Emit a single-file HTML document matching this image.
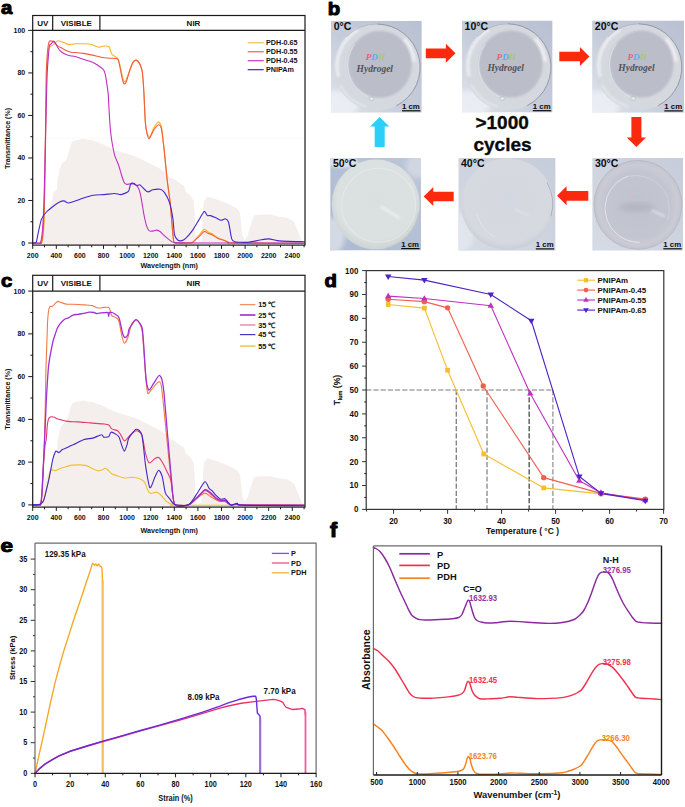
<!DOCTYPE html><html><head><meta charset="utf-8"><style>html,body{margin:0;padding:0;background:#fff;width:685px;height:807px;overflow:hidden}</style></head><body><svg width="685" height="807" viewBox="0 0 685 807" style="display:block">
<rect width="685" height="807" fill="#ffffff"/>
<path d="M43 245.1 L44 222 L45.4 216.8 L48.1 211.3 L52.2 200.4 L53.5 192.3 L56.9 189.5 L57.6 180 L59.7 169.1 L61.7 163.6 L66.5 159.5 L68.5 152.7 L71.9 141.8 L74.5 140.6 L82.9 138.9 L93.5 140.6 L104.1 144.8 L114.7 150.1 L125.3 153.3 L135.8 156.5 L146.4 161.8 L157 167 L165.5 172.3 L169.2 177 L175 179.6 L177.7 181.8 L184 186 L186.2 192.3 L190.4 195.5 L193.6 200.8 L194.6 211.4 L195.5 236 L197 244 L201.5 240 L203.5 205 L204.2 200.8 L207.3 196.6 L217.9 199.7 L228.5 204 L237 208.2 L240.1 213.5 L242.3 234.7 L244.5 240 L247.5 236 L249.7 228.3 L253.9 215.6 L260.3 214.6 L270.8 214.6 L279.3 216.7 L287.8 217.8 L294.1 222 L299.4 234.7 L302.6 243 L303 245.1 Z" fill="#f4efed" stroke="none"/>
<line x1="33.5" y1="138.2" x2="304.5" y2="138.2" stroke="#f8f6f5" stroke-width="0.8"/>
<path d="M32.9 243.3 C33.61 243.29 37.94 243.3 39 243.2 C40.06 243.09 41.42 244.52 42 242.4 C42.58 240.28 43.65 232.28 44 225 C44.35 217.72 44.79 192.25 45 180 C45.21 167.75 45.62 131.67 45.8 120 C45.97 108.33 46.3 87.23 46.5 80 C46.7 72.77 47.27 61.5 47.5 58 C47.73 54.5 48.17 51.35 48.5 50 C48.83 48.65 49.75 46.99 50.3 46.4 C50.85 45.8 52.66 45.27 53.2 44.9 C53.74 44.53 54.49 43.61 54.9 43.2 C55.31 42.79 56.29 41.68 56.7 41.4 C57.11 41.12 57.85 40.76 58.4 40.8 C58.95 40.84 60.71 41.49 61.4 41.7 C62.09 41.91 63.62 42.32 64.3 42.6 C64.98 42.88 66.31 43.9 67.2 44.1 C68.09 44.3 70.99 44.34 71.9 44.3 C72.81 44.26 73.61 43.86 75 43.8 C76.39 43.74 81.86 43.72 83.8 43.8 C85.74 43.88 90.18 44.2 91.6 44.5 C93.02 44.8 95.12 46.07 96 46.4 C96.88 46.73 98.28 47.32 99.1 47.3 C99.92 47.28 101.88 46.3 103 46.2 C104.12 46.1 107.88 46.07 108.7 46.4 C109.52 46.73 109.64 48.08 110 49 C110.36 49.92 111.18 53.42 111.8 54.3 C112.42 55.17 114.59 56 115.3 56.5 C116.01 57 117.39 57.74 117.9 58.6 C118.41 59.46 119.19 61.85 119.7 63.9 C120.21 65.95 121.74 74.1 122.3 76.2 C122.86 78.3 123.88 81.9 124.5 81.9 C125.12 81.9 126.83 78 127.6 76.2 C128.37 74.4 130.24 68.34 131.1 66.5 C131.96 64.66 134.25 61.1 135 60.4 C135.75 59.7 136.91 60.03 137.5 60.5 C138.09 60.97 139.54 63.09 140.1 64.4 C140.66 65.71 141.87 68.63 142.3 71.7 C142.73 74.77 143.45 84.84 143.8 90.7 C144.15 96.56 144.93 116.97 145.3 121.9 C145.67 126.84 146.49 131.22 147 133 C147.51 134.78 149.12 137.32 149.7 137.2 C150.28 137.08 151.49 133.17 152 132 C152.51 130.83 153.34 128.38 154.1 127.2 C154.86 126.02 157.65 121.92 158.5 121.9 C159.35 121.88 160.88 124.89 161.4 127 C161.93 129.11 162.66 137.19 163 140 C163.34 142.81 163.81 146.4 164.3 151.1 C164.79 155.8 166.52 174.34 167.2 180.3 C167.88 186.26 169.48 196.4 170.1 202.2 C170.72 208 172.04 225.31 172.5 230 C172.96 234.69 173.36 240.88 174 242.4 C174.64 243.92 176.58 242.93 178 243 C179.42 243.07 184.51 243.09 186.2 243 C187.89 242.91 191.02 243.11 192.5 242.2 C193.98 241.29 197.53 236.69 198.9 235.2 C200.27 233.71 203.09 229.74 204.2 229.4 C205.31 229.06 207.54 231.83 208.4 232.3 C209.26 232.77 210.49 232.76 211.6 233.4 C212.71 234.04 216.42 237.01 217.9 237.8 C219.38 238.59 223.06 239.69 224.3 240.2 C225.54 240.71 227.52 241.87 228.5 242.2 C229.48 242.53 223.83 242.87 232.7 243 C241.57 243.13 296.12 243.27 304.5 243.3" fill="none" stroke="#f7b52c" stroke-width="1.1" stroke-linejoin="round" stroke-linecap="round" />
<path d="M32.9 243.3 C33.61 243.29 37.98 243.3 39 243.2 C40.02 243.09 41.08 244.52 41.6 242.4 C42.12 240.28 43.15 231.11 43.5 225 C43.85 218.89 44.37 201.08 44.6 190 C44.83 178.92 45.31 143.42 45.5 130 C45.69 116.58 46 83.75 46.2 75 C46.4 66.25 46.97 58.44 47.2 55 C47.43 51.56 47.94 47.09 48.2 45.5 C48.46 43.91 48.96 41.91 49.4 41.4 C49.84 40.89 51.36 40.89 52 41.1 C52.64 41.31 54.21 42.62 54.9 43.2 C55.59 43.78 57.01 45.49 57.9 46.1 C58.79 46.71 61.41 47.82 62.5 48.4 C63.59 48.98 66.1 50.62 67.2 51.1 C68.3 51.58 70.99 52.34 71.9 52.5 C72.81 52.66 73.61 52.4 75 52.5 C76.39 52.6 81.76 53.1 83.8 53.4 C85.84 53.7 90.46 54.65 92.5 55.1 C94.54 55.55 99.26 56.94 101.3 57.3 C103.34 57.66 108.26 58.06 110 58.2 C111.74 58.34 115.22 58.24 116.2 58.5 C117.18 58.76 117.9 59.06 118.4 60.4 C118.9 61.74 120 67.66 120.5 70 C121 72.34 122.23 78.87 122.7 80.5 C123.17 82.13 124.03 84 124.5 84 C124.97 84 126.14 81.92 126.7 80.5 C127.26 79.08 128.59 73.94 129.3 71.8 C130.01 69.66 132.08 63.55 132.8 62.2 C133.52 60.85 134.89 60.28 135.5 60.2 C136.11 60.12 137.46 60.96 138 61.5 C138.54 62.04 139.6 63.57 140.1 64.8 C140.6 66.02 141.87 68.98 142.3 72 C142.73 75.02 143.45 84.88 143.8 90.7 C144.15 96.52 144.93 116.91 145.3 121.9 C145.67 126.89 146.57 131.54 147 133.5 C147.43 135.46 148.47 138.58 149 138.7 C149.53 138.82 150.91 135.57 151.5 134.5 C152.09 133.43 153.28 130.63 154.1 129.5 C154.92 128.37 157.65 124.92 158.5 124.8 C159.35 124.68 160.88 126.73 161.4 128.5 C161.93 130.27 162.66 137.36 163 140 C163.34 142.64 163.81 146.4 164.3 151.1 C164.79 155.8 166.52 174.34 167.2 180.3 C167.88 186.26 169.48 196.4 170.1 202.2 C170.72 208 172.04 225.31 172.5 230 C172.96 234.69 173.36 240.88 174 242.4 C174.64 243.92 176.58 242.93 178 243 C179.42 243.07 184.51 243.07 186.2 243 C187.89 242.93 191.02 243.14 192.5 242.4 C193.98 241.66 197.53 237.97 198.9 236.7 C200.27 235.43 203.09 231.86 204.2 231.5 C205.31 231.14 207.54 233.26 208.4 233.6 C209.26 233.94 210.49 233.83 211.6 234.4 C212.71 234.97 216.42 237.79 217.9 238.5 C219.38 239.21 223.06 240.04 224.3 240.5 C225.54 240.96 227.52 242.11 228.5 242.4 C229.48 242.69 223.83 242.87 232.7 243 C241.57 243.13 296.12 243.44 304.5 243.5" fill="none" stroke="#f25a3e" stroke-width="1.1" stroke-linejoin="round" stroke-linecap="round" />
<path d="M32.9 243.2 C33.49 243.18 37.1 243.12 38 243 C38.9 242.88 40.08 243.72 40.6 242.2 C41.12 240.68 42.1 234.92 42.5 230 C42.9 225.08 43.65 210.5 44 200 C44.35 189.5 45.22 151.67 45.5 140 C45.78 128.33 46.21 107.58 46.4 100 C46.59 92.42 46.89 79.85 47.1 75 C47.31 70.15 47.93 61.81 48.2 58.4 C48.47 54.99 49.1 47.45 49.4 45.8 C49.7 44.15 50.32 44.85 50.8 44.3 C51.28 43.75 52.95 41.23 53.5 41.1 C54.05 40.97 54.99 42.42 55.5 43.2 C56.01 43.98 57.35 46.91 57.9 47.8 C58.45 48.69 59.45 50.11 60.2 50.8 C60.95 51.49 63.14 53.13 64.3 53.7 C65.45 54.27 68.85 55.37 70.1 55.7 C71.35 56.03 73.4 56.06 75 56.5 C76.6 56.94 81.76 58.84 83.8 59.5 C85.84 60.16 90.87 61.54 92.5 62.2 C94.13 62.87 96.58 64.38 97.8 65.2 C99.02 66.02 102.18 68.33 103 69.2 C103.82 70.08 104.44 71.58 104.8 72.7 C105.16 73.82 105.8 77.06 106.1 78.8 C106.4 80.54 107.14 85.71 107.4 87.6 C107.66 89.49 108.14 92.94 108.3 95 C108.46 97.06 108.6 101.8 108.8 105.3 C109 108.8 109.74 121.53 110 125 C110.26 128.47 110.71 132.67 111 135 C111.29 137.33 112.07 142.62 112.5 145 C112.93 147.38 113.95 152.95 114.7 155.4 C115.45 157.85 118.11 163.71 118.9 166 C119.69 168.29 120.88 173.07 121.5 175 C122.12 176.93 123.62 181.41 124.2 182.5 C124.78 183.59 125.88 184.12 126.5 184.3 C127.12 184.48 128.66 184.03 129.5 184 C130.34 183.97 132.71 183.63 133.7 184 C134.69 184.37 137.24 186.1 138 187.2 C138.76 188.3 139.71 191.43 140.2 193.4 C140.69 195.37 141.76 201.58 142.2 204.1 C142.64 206.62 143.51 212.53 144 215 C144.49 217.47 145.88 223.55 146.4 225.3 C146.93 227.05 148 229.31 148.5 230 C149 230.69 150.06 231.11 150.7 231.2 C151.34 231.29 153.26 230.93 154 230.8 C154.74 230.67 156.3 230.02 157 230.1 C157.7 230.18 159.25 230.95 160 231.5 C160.75 232.05 162.27 233.8 163.4 234.8 C164.53 235.8 168.35 239.19 169.7 240.1 C171.05 241.01 171.47 242.26 175 242.6 C178.53 242.94 184.89 242.95 200 243 C215.11 243.05 292.31 243 304.5 243" fill="none" stroke="#c02fc0" stroke-width="1.1" stroke-linejoin="round" stroke-linecap="round" />
<path d="M32.9 243 C33.14 242.98 34.59 242.94 35 242.8 C35.41 242.66 35.99 243.11 36.4 241.8 C36.81 240.49 37.89 234.27 38.5 231.6 C39.11 228.93 40.62 221.25 41.6 218.9 C42.58 216.56 45.53 212.98 46.9 211.5 C48.27 210.02 51.82 207.31 53.3 206.2 C54.78 205.09 58.36 202.62 59.6 202 C60.84 201.38 62.91 200.78 63.9 200.9 C64.89 201.02 67.12 202.87 68.1 203 C69.08 203.13 70.57 202.56 72.3 202 C74.03 201.44 80.43 198.99 82.9 198.2 C85.37 197.41 91.03 195.62 93.5 195.2 C95.97 194.78 101.63 194.8 104.1 194.6 C106.57 194.4 112.73 193.5 114.7 193.5 C116.67 193.5 119.4 194.84 121 194.6 C122.6 194.35 127.28 192.64 128.4 191.4 C129.52 190.16 129.98 184.94 130.6 184 C131.22 183.06 132.96 183.12 133.7 183.3 C134.44 183.48 136.15 185.3 136.9 185.5 C137.65 185.7 138.86 184.26 140.1 185 C141.34 185.74 146.02 191.25 147.5 191.8 C148.98 192.35 151.32 189.99 152.8 189.7 C154.28 189.41 158.85 188.99 160.2 189.3 C161.55 189.62 163.29 190.8 164.4 192.4 C165.51 194 168.71 199.91 169.7 203 C170.69 206.09 172.34 215.2 172.9 218.9 C173.46 222.6 173.94 232.24 174.5 234.7 C175.06 237.16 176.84 239.31 177.7 240 C178.56 240.69 180.91 240.86 181.9 240.6 C182.89 240.34 184.96 238.99 186.2 237.8 C187.44 236.61 191.02 232.49 192.5 230.4 C193.98 228.31 197.53 222.12 198.9 219.9 C200.27 217.68 203.22 211.9 204.2 211.4 C205.18 210.9 206.56 215.11 207.3 215.6 C208.04 216.09 209.51 215.35 210.5 215.6 C211.49 215.84 214.56 217.15 215.8 217.7 C217.04 218.25 219.99 220.17 221.1 220.3 C222.21 220.43 224.44 218.6 225.3 218.8 C226.16 219 227.75 219.66 228.5 222 C229.25 224.34 230.95 236.6 231.7 238.9 C232.45 241.2 233.79 241.3 234.9 241.7 C236.01 242.1 239.47 242.25 241.2 242.3 C242.93 242.35 247.47 242.37 249.7 242.1 C251.93 241.83 258.08 240.37 260.3 240 C262.52 239.63 266.73 238.83 268.7 238.9 C270.67 238.97 274.97 240.31 277.2 240.6 C279.43 240.89 284.62 241.27 287.8 241.4 C290.99 241.53 302.55 241.66 304.5 241.7" fill="none" stroke="#4a25cc" stroke-width="1.1" stroke-linejoin="round" stroke-linecap="round" />
<rect x="32.7" y="15.5" width="272.3" height="229.6" fill="none" stroke="#1a1a1a" stroke-width="1.2"/>
<line x1="32.7" y1="30.4" x2="305" y2="30.4" stroke="#1a1a1a" stroke-width="1.2"/>
<line x1="52.7" y1="15.5" x2="52.7" y2="30.4" stroke="#1a1a1a" stroke-width="1.2"/>
<line x1="99.9" y1="15.5" x2="99.9" y2="30.4" stroke="#1a1a1a" stroke-width="1.2"/>
<text x="42.7" y="25.85" font-size="8" text-anchor="middle" font-weight="bold" fill="#111" font-family='"Liberation Sans", sans-serif' >UV</text>
<text x="76.3" y="25.85" font-size="8" text-anchor="middle" font-weight="bold" fill="#111" font-family='"Liberation Sans", sans-serif' >VISIBLE</text>
<text x="193.5" y="25.85" font-size="8" text-anchor="middle" font-weight="bold" fill="#111" font-family='"Liberation Sans", sans-serif' >NIR</text>
<line x1="28.2" y1="243" x2="32.7" y2="243" stroke="#1a1a1a" stroke-width="1"/>
<text x="25.2" y="245.5" font-size="7" text-anchor="end" font-weight="bold" fill="#111" font-family='"Liberation Sans", sans-serif' >0</text>
<line x1="30.4" y1="221.74" x2="32.7" y2="221.74" stroke="#1a1a1a" stroke-width="1"/>
<line x1="28.2" y1="200.48" x2="32.7" y2="200.48" stroke="#1a1a1a" stroke-width="1"/>
<text x="25.2" y="202.98" font-size="7" text-anchor="end" font-weight="bold" fill="#111" font-family='"Liberation Sans", sans-serif' >20</text>
<line x1="30.4" y1="179.22" x2="32.7" y2="179.22" stroke="#1a1a1a" stroke-width="1"/>
<line x1="28.2" y1="157.96" x2="32.7" y2="157.96" stroke="#1a1a1a" stroke-width="1"/>
<text x="25.2" y="160.46" font-size="7" text-anchor="end" font-weight="bold" fill="#111" font-family='"Liberation Sans", sans-serif' >40</text>
<line x1="30.4" y1="136.7" x2="32.7" y2="136.7" stroke="#1a1a1a" stroke-width="1"/>
<line x1="28.2" y1="115.44" x2="32.7" y2="115.44" stroke="#1a1a1a" stroke-width="1"/>
<text x="25.2" y="117.94" font-size="7" text-anchor="end" font-weight="bold" fill="#111" font-family='"Liberation Sans", sans-serif' >60</text>
<line x1="30.4" y1="94.18" x2="32.7" y2="94.18" stroke="#1a1a1a" stroke-width="1"/>
<line x1="28.2" y1="72.92" x2="32.7" y2="72.92" stroke="#1a1a1a" stroke-width="1"/>
<text x="25.2" y="75.42" font-size="7" text-anchor="end" font-weight="bold" fill="#111" font-family='"Liberation Sans", sans-serif' >80</text>
<line x1="30.4" y1="51.66" x2="32.7" y2="51.66" stroke="#1a1a1a" stroke-width="1"/>
<line x1="28.2" y1="30.4" x2="32.7" y2="30.4" stroke="#1a1a1a" stroke-width="1"/>
<text x="25.2" y="32.9" font-size="7" text-anchor="end" font-weight="bold" fill="#111" font-family='"Liberation Sans", sans-serif' >100</text>
<line x1="32.7" y1="245.1" x2="32.7" y2="248.9" stroke="#1a1a1a" stroke-width="1"/>
<text x="32.7" y="258" font-size="7" text-anchor="middle" font-weight="bold" fill="#111" font-family='"Liberation Sans", sans-serif' >200</text>
<line x1="44.5" y1="245.1" x2="44.5" y2="247.3" stroke="#1a1a1a" stroke-width="1"/>
<line x1="56.3" y1="245.1" x2="56.3" y2="248.9" stroke="#1a1a1a" stroke-width="1"/>
<text x="56.3" y="258" font-size="7" text-anchor="middle" font-weight="bold" fill="#111" font-family='"Liberation Sans", sans-serif' >400</text>
<line x1="68.1" y1="245.1" x2="68.1" y2="247.3" stroke="#1a1a1a" stroke-width="1"/>
<line x1="79.9" y1="245.1" x2="79.9" y2="248.9" stroke="#1a1a1a" stroke-width="1"/>
<text x="79.9" y="258" font-size="7" text-anchor="middle" font-weight="bold" fill="#111" font-family='"Liberation Sans", sans-serif' >600</text>
<line x1="91.7" y1="245.1" x2="91.7" y2="247.3" stroke="#1a1a1a" stroke-width="1"/>
<line x1="103.5" y1="245.1" x2="103.5" y2="248.9" stroke="#1a1a1a" stroke-width="1"/>
<text x="103.5" y="258" font-size="7" text-anchor="middle" font-weight="bold" fill="#111" font-family='"Liberation Sans", sans-serif' >800</text>
<line x1="115.3" y1="245.1" x2="115.3" y2="247.3" stroke="#1a1a1a" stroke-width="1"/>
<line x1="127.1" y1="245.1" x2="127.1" y2="248.9" stroke="#1a1a1a" stroke-width="1"/>
<text x="127.1" y="258" font-size="7" text-anchor="middle" font-weight="bold" fill="#111" font-family='"Liberation Sans", sans-serif' >1000</text>
<line x1="138.9" y1="245.1" x2="138.9" y2="247.3" stroke="#1a1a1a" stroke-width="1"/>
<line x1="150.7" y1="245.1" x2="150.7" y2="248.9" stroke="#1a1a1a" stroke-width="1"/>
<text x="150.7" y="258" font-size="7" text-anchor="middle" font-weight="bold" fill="#111" font-family='"Liberation Sans", sans-serif' >1200</text>
<line x1="162.5" y1="245.1" x2="162.5" y2="247.3" stroke="#1a1a1a" stroke-width="1"/>
<line x1="174.3" y1="245.1" x2="174.3" y2="248.9" stroke="#1a1a1a" stroke-width="1"/>
<text x="174.3" y="258" font-size="7" text-anchor="middle" font-weight="bold" fill="#111" font-family='"Liberation Sans", sans-serif' >1400</text>
<line x1="186.1" y1="245.1" x2="186.1" y2="247.3" stroke="#1a1a1a" stroke-width="1"/>
<line x1="197.9" y1="245.1" x2="197.9" y2="248.9" stroke="#1a1a1a" stroke-width="1"/>
<text x="197.9" y="258" font-size="7" text-anchor="middle" font-weight="bold" fill="#111" font-family='"Liberation Sans", sans-serif' >1600</text>
<line x1="209.7" y1="245.1" x2="209.7" y2="247.3" stroke="#1a1a1a" stroke-width="1"/>
<line x1="221.5" y1="245.1" x2="221.5" y2="248.9" stroke="#1a1a1a" stroke-width="1"/>
<text x="221.5" y="258" font-size="7" text-anchor="middle" font-weight="bold" fill="#111" font-family='"Liberation Sans", sans-serif' >1800</text>
<line x1="233.3" y1="245.1" x2="233.3" y2="247.3" stroke="#1a1a1a" stroke-width="1"/>
<line x1="245.1" y1="245.1" x2="245.1" y2="248.9" stroke="#1a1a1a" stroke-width="1"/>
<text x="245.1" y="258" font-size="7" text-anchor="middle" font-weight="bold" fill="#111" font-family='"Liberation Sans", sans-serif' >2000</text>
<line x1="256.9" y1="245.1" x2="256.9" y2="247.3" stroke="#1a1a1a" stroke-width="1"/>
<line x1="268.7" y1="245.1" x2="268.7" y2="248.9" stroke="#1a1a1a" stroke-width="1"/>
<text x="268.7" y="258" font-size="7" text-anchor="middle" font-weight="bold" fill="#111" font-family='"Liberation Sans", sans-serif' >2200</text>
<line x1="280.5" y1="245.1" x2="280.5" y2="247.3" stroke="#1a1a1a" stroke-width="1"/>
<line x1="292.3" y1="245.1" x2="292.3" y2="248.9" stroke="#1a1a1a" stroke-width="1"/>
<text x="292.3" y="258" font-size="7" text-anchor="middle" font-weight="bold" fill="#111" font-family='"Liberation Sans", sans-serif' >2400</text>
<line x1="304.1" y1="245.1" x2="304.1" y2="247.3" stroke="#1a1a1a" stroke-width="1"/>
<text x="169.2" y="268" font-size="7.2" text-anchor="middle" font-weight="bold" fill="#111" font-family='"Liberation Sans", sans-serif' >Wavelength (nm)</text>
<text transform="translate(10.2 138.4) rotate(-90)" font-size="7.1" text-anchor="middle" font-weight="bold" fill="#111" font-family='"Liberation Sans", sans-serif'>Transmittance (%)</text>
<text x="0" y="0" font-size="18.5" font-weight="bold" fill="#000" stroke="#000" stroke-width="1.0" stroke-linejoin="round" font-family='"Liberation Sans", sans-serif' transform="translate(0.9 14.3) scale(1.1 1)">a</text>
<line x1="247.7" y1="42.8" x2="263.7" y2="42.8" stroke="#f5c060" stroke-width="1.3"/>
<text x="266" y="45.4" font-size="7.2" text-anchor="start" font-weight="bold" fill="#111" font-family='"Liberation Sans", sans-serif' >PDH-0.65</text>
<line x1="247.7" y1="51.75" x2="263.7" y2="51.75" stroke="#f86c5c" stroke-width="1.3"/>
<text x="266" y="54.35" font-size="7.2" text-anchor="start" font-weight="bold" fill="#111" font-family='"Liberation Sans", sans-serif' >PDH-0.55</text>
<line x1="247.7" y1="60.7" x2="263.7" y2="60.7" stroke="#c845c8" stroke-width="1.3"/>
<text x="266" y="63.3" font-size="7.2" text-anchor="start" font-weight="bold" fill="#111" font-family='"Liberation Sans", sans-serif' >PDH-0.45</text>
<line x1="247.7" y1="69.65" x2="263.7" y2="69.65" stroke="#5535d0" stroke-width="1.3"/>
<text x="266" y="72.25" font-size="7.2" text-anchor="start" font-weight="bold" fill="#111" font-family='"Liberation Sans", sans-serif' >PNIPAm</text>
<path d="M43 506.8 L44 483.7 L45.4 478.5 L48.1 473 L52.2 462.1 L53.5 454 L56.9 451.2 L57.6 441.7 L59.7 430.8 L61.7 425.3 L66.5 421.2 L68.5 414.4 L71.9 403.5 L74.5 402.3 L82.9 400.6 L93.5 402.3 L104.1 406.5 L114.7 411.8 L125.3 415 L135.8 418.2 L146.4 423.5 L157 428.7 L165.5 434 L169.2 438.7 L175 441.3 L177.7 443.5 L184 447.7 L186.2 454 L190.4 457.2 L193.6 462.5 L194.6 473.1 L195.5 497.7 L197 505.7 L201.5 501.7 L203.5 466.7 L204.2 462.5 L207.3 458.3 L217.9 461.4 L228.5 465.7 L237 469.9 L240.1 475.2 L242.3 496.4 L244.5 501.7 L247.5 497.7 L249.7 490 L253.9 477.3 L260.3 476.3 L270.8 476.3 L279.3 478.4 L287.8 479.5 L294.1 483.7 L299.4 496.4 L302.6 504.7 L303 506.8 Z" fill="#f4efed" stroke="none"/>
<path d="M32.9 504.9 C33.6 504.87 37.84 504.83 38.9 504.6 C39.96 504.37 41.39 503.55 42 502.9 C42.61 502.25 43.55 500.67 44.1 499 C44.65 497.33 46.19 490.82 46.7 488.6 C47.21 486.38 48.09 482.03 48.5 480 C48.91 477.97 49.7 472.38 50.2 471.2 C50.7 470.02 52.19 469.95 52.8 469.9 C53.41 469.85 54.58 470.95 55.4 470.8 C56.22 470.65 58.48 469.1 59.8 468.6 C61.12 468.1 65.24 466.91 66.7 466.5 C68.16 466.09 70.11 465.23 72.3 465.1 C74.49 464.97 83.11 464.98 85.5 465.4 C87.89 465.82 91.27 468.06 92.8 468.7 C94.33 469.34 97.41 470.81 98.6 470.9 C99.79 470.99 102.31 469.81 103 469.5 C103.69 469.19 103.99 468.2 104.5 468.2 C105.01 468.2 106.55 468.85 107.4 469.5 C108.25 470.15 110.61 473.04 111.8 473.8 C112.99 474.56 116.07 475.51 117.6 476 C119.13 476.49 123.45 477.82 124.9 478 C126.35 478.18 128.87 477.56 130 477.5 C131.13 477.44 133.39 477.32 134.6 477.5 C135.81 477.68 139.21 478.4 140.4 479 C141.59 479.6 143.95 481.33 144.8 482.6 C145.65 483.87 147.01 488.63 147.7 489.9 C148.39 491.17 149.67 493.24 150.7 493.5 C151.73 493.76 155.31 491.93 156.5 492.1 C157.69 492.28 159.71 493.89 160.9 495 C162.09 496.11 165.33 500.49 166.7 501.6 C168.06 502.71 171.23 504.08 172.6 504.5 C173.97 504.92 163.07 505.12 178.4 505.2 C193.73 505.28 289.35 505.2 304 505.2" fill="none" stroke="#f0c030" stroke-width="1.1" stroke-linejoin="round" stroke-linecap="round" />
<path d="M32.9 505 C33.61 504.98 38.09 504.88 39 504.8 C39.91 504.72 40.33 505.68 40.7 504.3 C41.07 502.92 41.89 497 42.2 493 C42.52 489 43.16 475.6 43.4 470 C43.64 464.4 44.12 450.83 44.3 445 C44.47 439.17 44.76 425.83 44.9 420 C45.04 414.17 45.38 400.83 45.5 395 C45.62 389.17 45.78 374.85 45.9 370 C46.02 365.15 46.34 358.07 46.5 353.4 C46.66 348.73 47.17 333.75 47.3 330 C47.43 326.25 47.46 323.47 47.6 321.3 C47.74 319.13 48.26 313.1 48.5 311.4 C48.74 309.7 49.29 307.28 49.7 306.7 C50.11 306.12 51.52 306.57 52 306.4 C52.48 306.22 53.32 305.64 53.8 305.2 C54.28 304.76 55.6 303.04 56.1 302.6 C56.6 302.16 57.48 301.4 58.1 301.4 C58.72 301.4 60.61 302.32 61.4 302.6 C62.19 302.88 64.22 303.6 64.9 303.8 C65.58 304 66.26 304.24 67.2 304.3 C68.14 304.36 71.74 304.28 73 304.3 C74.26 304.32 76.56 304.43 78 304.5 C79.44 304.57 83.6 304.77 85.3 304.9 C87 305.03 91.33 305.31 92.6 305.6 C93.87 305.89 95.35 307.12 96.2 307.4 C97.05 307.68 99.05 308 99.9 308 C100.75 308 102.47 307.47 103.5 307.4 C104.53 307.33 107.93 307.06 108.7 307.4 C109.47 307.74 109.76 309.37 110.1 310.3 C110.44 311.23 111.09 314.63 111.6 315.4 C112.11 316.17 113.78 316.47 114.5 316.9 C115.22 317.33 117.2 318.25 117.8 319.1 C118.39 319.95 119.13 322.24 119.6 324.2 C120.07 326.16 121.24 333.68 121.8 335.9 C122.36 338.12 123.68 343.04 124.4 343.2 C125.12 343.36 127.18 339.49 128 337.3 C128.82 335.11 130.49 326.42 131.4 324.4 C132.31 322.38 134.87 320.16 135.8 320 C136.73 319.84 138.64 321.63 139.4 323 C140.16 324.37 141.79 328.47 142.3 331.7 C142.81 334.93 143.37 345.08 143.8 350.7 C144.23 356.32 145.53 374.91 146 379.9 C146.47 384.89 147.21 392.31 147.8 393.5 C148.4 394.69 149.86 391.43 151.1 390.1 C152.34 388.77 157.21 382.61 158.4 382.1 C159.59 381.59 160.53 381.28 161.3 385.7 C162.07 390.12 163.99 410.17 165 420 C166.01 429.83 168.87 460.14 170 470 C171.13 479.86 172.53 500.44 174.7 504.5 C176.87 508.56 185.95 505.56 188.6 504.8 C191.25 504.04 195.52 499.37 197.4 498 C199.28 496.63 203.22 493.31 204.7 493.1 C206.18 492.89 208.75 495.39 210.1 496.2 C211.45 497 215.06 499.38 216.3 500 C217.54 500.62 219.69 501.32 220.7 501.5 C221.71 501.68 224.15 501.27 225 501.5 C225.85 501.73 227.28 503.09 228 503.5 C228.72 503.91 230.11 504.94 231.2 505 C232.28 505.06 235.97 504 237.3 504 C238.63 504 234.82 504.86 242.6 505 C250.38 505.14 296.84 505.18 304 505.2" fill="none" stroke="#f47a45" stroke-width="1.1" stroke-linejoin="round" stroke-linecap="round" />
<path d="M32.9 505 C33.61 504.98 38.09 504.89 39 504.8 C39.91 504.71 40.35 505.69 40.7 504.2 C41.05 502.71 41.7 496.46 42 492 C42.3 487.54 43 470.9 43.3 466 C43.6 461.1 44.33 452.8 44.6 450 C44.87 447.2 45.41 443.17 45.6 442 C45.79 440.83 46 441.94 46.2 440 C46.4 438.06 47.03 427.85 47.3 425.4 C47.57 422.95 48.15 419.98 48.5 419 C48.85 418.02 49.89 417.27 50.3 417 C50.71 416.73 51.52 416.66 52 416.7 C52.48 416.74 53.78 417.07 54.4 417.3 C55.02 417.53 56.48 418.4 57.3 418.7 C58.12 419 60.38 419.62 61.4 419.9 C62.41 420.18 64.98 420.9 66 421.1 C67.02 421.3 68.7 421.51 70.1 421.6 C71.5 421.69 75.86 421.77 78 421.9 C80.14 422.03 85.48 422.47 88.4 422.7 C91.32 422.93 100.62 423.64 103 423.9 C105.38 424.16 107.77 424.32 108.8 424.9 C109.83 425.48 110.77 428.21 111.8 428.9 C112.83 429.59 116.58 430.16 117.6 430.8 C118.61 431.44 119.71 433.21 120.5 434.4 C121.29 435.59 123.43 440.74 124.4 441 C125.37 441.26 127.44 437.79 128.8 436.6 C130.17 435.41 134.57 430.98 136.1 430.8 C137.63 430.62 140.8 432.46 141.9 435.1 C143 437.74 144.65 450.16 145.5 453.4 C146.35 456.64 148.09 462.3 149.2 462.9 C150.31 463.5 153.89 459.13 155 458.5 C156.11 457.87 157.85 457.07 158.7 457.5 C159.55 457.93 161.37 460.64 162.3 462.2 C163.23 463.76 165.67 468.69 166.7 470.9 C167.73 473.1 170.17 477.18 171.1 481.1 C172.03 485.02 172.66 501.74 174.7 504.5 C176.74 507.26 185.95 505.62 188.6 504.8 C191.25 503.98 195.5 499.18 197.4 497.5 C199.3 495.82 203.42 490.87 204.9 490.4 C206.38 489.93 208.77 492.5 210.1 493.5 C211.43 494.5 215.06 498.12 216.3 499 C217.54 499.88 219.69 500.77 220.7 501 C221.71 501.23 224.15 500.73 225 501 C225.85 501.27 227.28 502.83 228 503.3 C228.72 503.77 230.11 504.92 231.2 505 C232.28 505.08 235.97 504 237.3 504 C238.63 504 234.82 504.86 242.6 505 C250.38 505.14 296.84 505.18 304 505.2" fill="none" stroke="#e33a6c" stroke-width="1.1" stroke-linejoin="round" stroke-linecap="round" />
<path d="M32.9 505 C33.61 504.98 38.09 504.89 39 504.8 C39.91 504.71 40.35 505.69 40.7 504.2 C41.05 502.71 41.7 496.46 42 492 C42.3 487.54 43 472.07 43.3 466 C43.6 459.93 44.34 445.37 44.6 440 C44.86 434.63 45.3 424.67 45.5 420 C45.7 415.33 46.1 404.08 46.3 400 C46.5 395.92 46.98 388.5 47.2 385 C47.42 381.5 47.98 372.67 48.2 370 C48.42 367.33 48.8 364.18 49.1 362.1 C49.4 360.02 50.32 354.72 50.8 352.2 C51.28 349.68 52.65 342.68 53.2 340.5 C53.75 338.32 55.02 334.92 55.5 333.5 C55.98 332.08 56.75 329.45 57.3 328.3 C57.85 327.15 59.38 324.63 60.2 323.6 C61.02 322.57 63.34 320.18 64.3 319.5 C65.26 318.82 67.39 318.31 68.4 317.8 C69.42 317.29 71.88 315.51 73 315.1 C74.12 314.69 76.56 314.52 78 314.3 C79.44 314.08 84.03 313.44 85.3 313.2 C86.57 312.95 87.87 312.28 88.9 312.2 C89.93 312.12 93.16 312.34 94.1 312.5 C95.04 312.66 96.15 313.55 97 313.6 C97.85 313.65 100.21 313.03 101.4 312.9 C102.59 312.77 106.41 312.49 107.2 312.5 C107.99 312.51 108.03 312.53 108.2 313 C108.38 313.47 108.58 316.5 108.7 316.5 C108.82 316.5 109.09 313.47 109.2 313 C109.31 312.53 109.24 312.56 109.6 312.5 C109.96 312.44 111.65 312.29 112.3 312.5 C112.95 312.71 114.52 313.87 115.2 314.3 C115.88 314.73 117.54 315.38 118.1 316.2 C118.66 317.02 119.49 319.34 120 321.3 C120.51 323.26 121.91 331.09 122.5 333 C123.09 334.91 124.46 337.54 125.1 337.7 C125.74 337.86 127.52 335.44 128 334.4 C128.48 333.36 128.29 330.51 129.2 328.8 C130.11 327.09 134.53 320.3 135.8 319.7 C137.07 319.1 139.34 322.64 140.1 323.7 C140.86 324.76 141.87 326.16 142.3 328.8 C142.73 331.44 143.37 340.51 143.8 346.3 C144.23 352.09 145.41 373.29 146 378.4 C146.59 383.51 147.97 389.59 148.9 390.1 C149.83 390.61 152.81 384.5 154 382.8 C155.19 381.1 158.17 375.84 159.1 375.5 C160.03 375.16 161.41 377.62 162 379.9 C162.59 382.17 163.5 387.99 164.2 395 C164.9 402.01 167.15 430.08 168 440 C168.85 449.92 170.72 472.48 171.5 480 C172.28 487.52 172.7 501.61 174.7 504.5 C176.69 507.39 185.95 505.68 188.6 504.8 C191.25 503.93 195.5 498.77 197.4 497 C199.3 495.23 203.42 490.16 204.9 489.6 C206.38 489.04 208.77 491.22 210.1 492.2 C211.43 493.18 215.06 497.03 216.3 498 C217.54 498.97 219.69 500.23 220.7 500.5 C221.71 500.77 224.15 500.01 225 500.3 C225.85 500.59 227.28 502.45 228 503 C228.72 503.55 230.11 504.91 231.2 505 C232.28 505.09 235.97 503.8 237.3 503.8 C238.63 503.8 234.82 504.84 242.6 505 C250.38 505.16 296.84 505.18 304 505.2" fill="none" stroke="#a030d8" stroke-width="1.3" stroke-linejoin="round" stroke-linecap="round" />
<path d="M32.9 504.9 C33.6 504.87 37.84 504.83 38.9 504.6 C39.96 504.37 41.39 503.55 42 502.9 C42.61 502.25 43.55 500.67 44.1 499 C44.65 497.33 46.09 491.13 46.7 488.6 C47.31 486.07 48.74 479.94 49.3 477.3 C49.86 474.66 51.09 468.12 51.5 466 C51.91 463.88 52.34 460.77 52.8 459.1 C53.25 457.43 54.95 452.61 55.4 451.7 C55.85 450.79 56.29 451.19 56.7 451.3 C57.11 451.41 58.23 452.81 58.9 452.6 C59.56 452.39 61.49 450.06 62.4 449.5 C63.31 448.94 65.58 448.3 66.7 447.8 C67.82 447.3 71.17 445.57 72 445.2 C72.83 444.83 72.4 445.27 73.8 444.6 C75.2 443.94 81.78 440.26 84 439.5 C86.22 438.74 90.76 438.66 92.8 438.1 C94.84 437.54 100.25 434.83 101.5 434.7 C102.75 434.57 103.07 436.7 103.5 437 C103.93 437.3 104.58 437.35 105.2 437.3 C105.82 437.25 108.12 437.2 108.8 436.6 C109.48 436 110.15 432.46 111 432.2 C111.85 431.94 115.16 433.8 116.1 434.4 C117.04 435 118.41 435.94 119.1 437.3 C119.79 438.67 121.38 444.48 122 446.1 C122.62 447.72 123.81 451.38 124.4 451.2 C125 451.02 126.59 446.13 127.1 444.6 C127.61 443.07 127.75 439.89 128.8 438.1 C129.85 436.31 134.57 429.65 136.1 429.3 C137.63 428.95 140.8 430.92 141.9 435.1 C143 439.28 144.57 458.96 145.5 465.1 C146.43 471.24 148.79 486.33 149.9 487.7 C151.01 489.06 153.97 478.84 155 476.8 C156.03 474.76 157.85 470.2 158.7 470.2 C159.55 470.2 161.53 474.16 162.3 476.8 C163.07 479.44 164.45 490.26 165.3 492.8 C166.15 495.34 168.5 497.24 169.6 498.6 C170.7 499.97 172.48 503.78 174.7 504.5 C176.92 505.22 185.95 506.14 188.6 504.8 C191.25 503.46 195.5 495.69 197.4 493 C199.3 490.31 203.51 482.2 204.9 481.7 C206.29 481.2 208.48 487.69 209.3 488.7 C210.12 489.71 211.08 489.58 211.9 490.4 C212.72 491.22 215.27 494.67 216.3 495.7 C217.33 496.73 219.69 498.85 220.7 499.2 C221.71 499.55 224.18 498.4 225 498.7 C225.82 499 226.98 501.03 227.7 501.8 C228.42 502.57 230.08 505.14 231.2 505.3 C232.32 505.46 235.97 503.2 237.3 503.2 C238.63 503.2 234.82 505.01 242.6 505.3 C250.38 505.59 296.84 505.65 304 505.7" fill="none" stroke="#4425c4" stroke-width="1.1" stroke-linejoin="round" stroke-linecap="round" />
<rect x="32.7" y="275.3" width="272.3" height="231.8" fill="none" stroke="#1a1a1a" stroke-width="1.2"/>
<line x1="32.7" y1="291.1" x2="305" y2="291.1" stroke="#1a1a1a" stroke-width="1.2"/>
<line x1="52.7" y1="275.3" x2="52.7" y2="291.1" stroke="#1a1a1a" stroke-width="1.2"/>
<line x1="99.9" y1="275.3" x2="99.9" y2="291.1" stroke="#1a1a1a" stroke-width="1.2"/>
<text x="42.7" y="286.1" font-size="8" text-anchor="middle" font-weight="bold" fill="#111" font-family='"Liberation Sans", sans-serif' >UV</text>
<text x="76.3" y="286.1" font-size="8" text-anchor="middle" font-weight="bold" fill="#111" font-family='"Liberation Sans", sans-serif' >VISIBLE</text>
<text x="193.5" y="286.1" font-size="8" text-anchor="middle" font-weight="bold" fill="#111" font-family='"Liberation Sans", sans-serif' >NIR</text>
<line x1="28.2" y1="504.9" x2="32.7" y2="504.9" stroke="#1a1a1a" stroke-width="1"/>
<text x="25.2" y="507.4" font-size="7" text-anchor="end" font-weight="bold" fill="#111" font-family='"Liberation Sans", sans-serif' >0</text>
<line x1="30.4" y1="483.52" x2="32.7" y2="483.52" stroke="#1a1a1a" stroke-width="1"/>
<line x1="28.2" y1="462.14" x2="32.7" y2="462.14" stroke="#1a1a1a" stroke-width="1"/>
<text x="25.2" y="464.64" font-size="7" text-anchor="end" font-weight="bold" fill="#111" font-family='"Liberation Sans", sans-serif' >20</text>
<line x1="30.4" y1="440.76" x2="32.7" y2="440.76" stroke="#1a1a1a" stroke-width="1"/>
<line x1="28.2" y1="419.38" x2="32.7" y2="419.38" stroke="#1a1a1a" stroke-width="1"/>
<text x="25.2" y="421.88" font-size="7" text-anchor="end" font-weight="bold" fill="#111" font-family='"Liberation Sans", sans-serif' >40</text>
<line x1="30.4" y1="398" x2="32.7" y2="398" stroke="#1a1a1a" stroke-width="1"/>
<line x1="28.2" y1="376.62" x2="32.7" y2="376.62" stroke="#1a1a1a" stroke-width="1"/>
<text x="25.2" y="379.12" font-size="7" text-anchor="end" font-weight="bold" fill="#111" font-family='"Liberation Sans", sans-serif' >60</text>
<line x1="30.4" y1="355.24" x2="32.7" y2="355.24" stroke="#1a1a1a" stroke-width="1"/>
<line x1="28.2" y1="333.86" x2="32.7" y2="333.86" stroke="#1a1a1a" stroke-width="1"/>
<text x="25.2" y="336.36" font-size="7" text-anchor="end" font-weight="bold" fill="#111" font-family='"Liberation Sans", sans-serif' >80</text>
<line x1="30.4" y1="312.48" x2="32.7" y2="312.48" stroke="#1a1a1a" stroke-width="1"/>
<line x1="28.2" y1="291.1" x2="32.7" y2="291.1" stroke="#1a1a1a" stroke-width="1"/>
<text x="25.2" y="293.6" font-size="7" text-anchor="end" font-weight="bold" fill="#111" font-family='"Liberation Sans", sans-serif' >100</text>
<line x1="32.7" y1="507.1" x2="32.7" y2="510.9" stroke="#1a1a1a" stroke-width="1"/>
<text x="32.7" y="520.3" font-size="7" text-anchor="middle" font-weight="bold" fill="#111" font-family='"Liberation Sans", sans-serif' >200</text>
<line x1="44.5" y1="507.1" x2="44.5" y2="509.3" stroke="#1a1a1a" stroke-width="1"/>
<line x1="56.3" y1="507.1" x2="56.3" y2="510.9" stroke="#1a1a1a" stroke-width="1"/>
<text x="56.3" y="520.3" font-size="7" text-anchor="middle" font-weight="bold" fill="#111" font-family='"Liberation Sans", sans-serif' >400</text>
<line x1="68.1" y1="507.1" x2="68.1" y2="509.3" stroke="#1a1a1a" stroke-width="1"/>
<line x1="79.9" y1="507.1" x2="79.9" y2="510.9" stroke="#1a1a1a" stroke-width="1"/>
<text x="79.9" y="520.3" font-size="7" text-anchor="middle" font-weight="bold" fill="#111" font-family='"Liberation Sans", sans-serif' >600</text>
<line x1="91.7" y1="507.1" x2="91.7" y2="509.3" stroke="#1a1a1a" stroke-width="1"/>
<line x1="103.5" y1="507.1" x2="103.5" y2="510.9" stroke="#1a1a1a" stroke-width="1"/>
<text x="103.5" y="520.3" font-size="7" text-anchor="middle" font-weight="bold" fill="#111" font-family='"Liberation Sans", sans-serif' >800</text>
<line x1="115.3" y1="507.1" x2="115.3" y2="509.3" stroke="#1a1a1a" stroke-width="1"/>
<line x1="127.1" y1="507.1" x2="127.1" y2="510.9" stroke="#1a1a1a" stroke-width="1"/>
<text x="127.1" y="520.3" font-size="7" text-anchor="middle" font-weight="bold" fill="#111" font-family='"Liberation Sans", sans-serif' >1000</text>
<line x1="138.9" y1="507.1" x2="138.9" y2="509.3" stroke="#1a1a1a" stroke-width="1"/>
<line x1="150.7" y1="507.1" x2="150.7" y2="510.9" stroke="#1a1a1a" stroke-width="1"/>
<text x="150.7" y="520.3" font-size="7" text-anchor="middle" font-weight="bold" fill="#111" font-family='"Liberation Sans", sans-serif' >1200</text>
<line x1="162.5" y1="507.1" x2="162.5" y2="509.3" stroke="#1a1a1a" stroke-width="1"/>
<line x1="174.3" y1="507.1" x2="174.3" y2="510.9" stroke="#1a1a1a" stroke-width="1"/>
<text x="174.3" y="520.3" font-size="7" text-anchor="middle" font-weight="bold" fill="#111" font-family='"Liberation Sans", sans-serif' >1400</text>
<line x1="186.1" y1="507.1" x2="186.1" y2="509.3" stroke="#1a1a1a" stroke-width="1"/>
<line x1="197.9" y1="507.1" x2="197.9" y2="510.9" stroke="#1a1a1a" stroke-width="1"/>
<text x="197.9" y="520.3" font-size="7" text-anchor="middle" font-weight="bold" fill="#111" font-family='"Liberation Sans", sans-serif' >1600</text>
<line x1="209.7" y1="507.1" x2="209.7" y2="509.3" stroke="#1a1a1a" stroke-width="1"/>
<line x1="221.5" y1="507.1" x2="221.5" y2="510.9" stroke="#1a1a1a" stroke-width="1"/>
<text x="221.5" y="520.3" font-size="7" text-anchor="middle" font-weight="bold" fill="#111" font-family='"Liberation Sans", sans-serif' >1800</text>
<line x1="233.3" y1="507.1" x2="233.3" y2="509.3" stroke="#1a1a1a" stroke-width="1"/>
<line x1="245.1" y1="507.1" x2="245.1" y2="510.9" stroke="#1a1a1a" stroke-width="1"/>
<text x="245.1" y="520.3" font-size="7" text-anchor="middle" font-weight="bold" fill="#111" font-family='"Liberation Sans", sans-serif' >2000</text>
<line x1="256.9" y1="507.1" x2="256.9" y2="509.3" stroke="#1a1a1a" stroke-width="1"/>
<line x1="268.7" y1="507.1" x2="268.7" y2="510.9" stroke="#1a1a1a" stroke-width="1"/>
<text x="268.7" y="520.3" font-size="7" text-anchor="middle" font-weight="bold" fill="#111" font-family='"Liberation Sans", sans-serif' >2200</text>
<line x1="280.5" y1="507.1" x2="280.5" y2="509.3" stroke="#1a1a1a" stroke-width="1"/>
<line x1="292.3" y1="507.1" x2="292.3" y2="510.9" stroke="#1a1a1a" stroke-width="1"/>
<text x="292.3" y="520.3" font-size="7" text-anchor="middle" font-weight="bold" fill="#111" font-family='"Liberation Sans", sans-serif' >2400</text>
<line x1="304.1" y1="507.1" x2="304.1" y2="509.3" stroke="#1a1a1a" stroke-width="1"/>
<text x="169.2" y="533.1" font-size="7.2" text-anchor="middle" font-weight="bold" fill="#111" font-family='"Liberation Sans", sans-serif' >Wavelength (nm)</text>
<text transform="translate(10.2 399.2) rotate(-90)" font-size="7.1" text-anchor="middle" font-weight="bold" fill="#111" font-family='"Liberation Sans", sans-serif'>Transmittance (%)</text>
<text x="0" y="0" font-size="18.5" font-weight="bold" fill="#000" stroke="#000" stroke-width="1.0" stroke-linejoin="round" font-family='"Liberation Sans", sans-serif' transform="translate(0.9 287.4) scale(1.1 1)">c</text>
<line x1="239.9" y1="304.6" x2="255.4" y2="304.6" stroke="#f49060" stroke-width="1.3"/>
<text x="258.2" y="307.2" font-size="7.4" text-anchor="start" font-weight="bold" fill="#111" font-family='"Liberation Sans", sans-serif' >15 ℃</text>
<line x1="239.9" y1="315" x2="255.4" y2="315" stroke="#a845d0" stroke-width="1.8"/>
<text x="258.2" y="317.6" font-size="7.4" text-anchor="start" font-weight="bold" fill="#111" font-family='"Liberation Sans", sans-serif' >25 ℃</text>
<line x1="239.9" y1="325" x2="255.4" y2="325" stroke="#f088b8" stroke-width="1.5"/>
<text x="258.2" y="327.6" font-size="7.4" text-anchor="start" font-weight="bold" fill="#111" font-family='"Liberation Sans", sans-serif' >35 ℃</text>
<line x1="239.9" y1="334.6" x2="255.4" y2="334.6" stroke="#4838c0" stroke-width="1.2"/>
<text x="258.2" y="337.2" font-size="7.4" text-anchor="start" font-weight="bold" fill="#111" font-family='"Liberation Sans", sans-serif' >45 ℃</text>
<line x1="239.9" y1="346.1" x2="255.4" y2="346.1" stroke="#f0c860" stroke-width="1.6"/>
<text x="258.2" y="348.7" font-size="7.4" text-anchor="start" font-weight="bold" fill="#111" font-family='"Liberation Sans", sans-serif' >55 ℃</text>
<defs><filter id="blur1" x="-20%" y="-20%" width="140%" height="140%"><feGaussianBlur stdDeviation="1.2"/></filter><filter id="blur2" x="-20%" y="-20%" width="140%" height="140%"><feGaussianBlur stdDeviation="2.5"/></filter><filter id="blur05"><feGaussianBlur stdDeviation="0.5"/></filter><linearGradient id="bgA" x1="1" y1="0" x2="0" y2="1"><stop offset="0" stop-color="#b8c0d2"/><stop offset="0.55" stop-color="#c6ccda"/><stop offset="1" stop-color="#e0e5ee"/></linearGradient><linearGradient id="bgB" x1="1" y1="0" x2="0" y2="1"><stop offset="0" stop-color="#c6ccd9"/><stop offset="1" stop-color="#d6dbe5"/></linearGradient><linearGradient id="bgC" x1="1" y1="0" x2="0" y2="1"><stop offset="0" stop-color="#bcc6d8"/><stop offset="1" stop-color="#abb9d2"/></linearGradient><radialGradient id="ringA" cx="0.5" cy="0.5" r="0.5"><stop offset="0.72" stop-color="#c6c7cf"/><stop offset="0.8" stop-color="#d2d4db"/><stop offset="0.97" stop-color="#d6d8df"/><stop offset="1" stop-color="#b8bbc5"/></radialGradient><radialGradient id="discW" cx="0.5" cy="0.45" r="0.55"><stop offset="0" stop-color="#d9e0df"/><stop offset="0.8" stop-color="#dbe1e0"/><stop offset="1" stop-color="#cdd3d3"/></radialGradient><radialGradient id="disc40" cx="0.5" cy="0.45" r="0.55"><stop offset="0" stop-color="#d3d7df"/><stop offset="0.85" stop-color="#d6d9e0"/><stop offset="1" stop-color="#caced7"/></radialGradient><radialGradient id="disc30" cx="0.5" cy="0.5" r="0.5"><stop offset="0" stop-color="#c0c3ce"/><stop offset="0.75" stop-color="#c3c5d0"/><stop offset="0.9" stop-color="#cacbd5"/><stop offset="1" stop-color="#c2c4ce"/></radialGradient></defs>
<clipPath id="clip1"><rect x="331" y="20.8" width="90.8" height="91.9"/></clipPath>
<g clip-path="url(#clip1)">
<rect x="331" y="20.8" width="90.8" height="91.9" fill="url(#bgA)"/>
<ellipse cx="337" cy="104.7" rx="22" ry="14" fill="#eef1f5" opacity="0.8" filter="url(#blur2)"/>
<ellipse cx="377" cy="67.25" rx="43.4" ry="43.2" fill="#d6d8df"/>
<ellipse cx="379.9" cy="64.25" rx="32" ry="33.5" fill="#bbbec9" filter="url(#blur1)"/>
<path d="M354.4 44.75 A33 34 0 0 0 368.4 96.75" stroke="#eef0f4" stroke-width="1.0" fill="none" opacity="0.55" filter="url(#blur05)"/>
<path d="M338.4 76.75 A42 42 0 0 1 358.4 29.75" stroke="#eef0f4" stroke-width="3.2" fill="none" opacity="0.85" filter="url(#blur1)"/>
<path d="M404.4 38.75 A42 42 0 0 1 414.4 61.75" stroke="#f2f3f6" stroke-width="3.5" fill="none" opacity="0.8" filter="url(#blur1)"/>
<path d="M340.4 84.75 A42 42 0 0 0 366.4 106.75" stroke="#e6e8ed" stroke-width="2.5" fill="none" opacity="0.8" filter="url(#blur1)"/>
<path d="M377 24.05 A43.4 43.2 0 0 1 396.4 105.75" stroke="#7d808c" stroke-width="0.7" fill="none"/>
<path d="M377 24.05 A43.4 43.2 0 0 0 346.4 36.75" stroke="#a9acb6" stroke-width="0.6" fill="none"/>
<ellipse cx="371.4" cy="98.75" rx="2.4" ry="1.8" fill="#e9ebef" stroke="#9a9da8" stroke-width="0.4" opacity="0.9"/>
<text x="375.4" y="60.2" font-size="9.2" text-anchor="middle" font-weight="bold" font-style="italic" font-family='"Liberation Serif", serif'><tspan fill="#e8607a">P</tspan><tspan fill="#5aaee8">D</tspan><tspan fill="#a8c870">H</tspan></text>
<text x="374.8" y="71.6" font-size="9.5" text-anchor="middle" font-weight="bold" font-style="italic" fill="#505157" font-family='"Liberation Serif", serif'>Hydrogel</text>
</g>
<text x="333.7" y="29.9" font-size="10.5" text-anchor="start" font-weight="bold" fill="#0a0a0a" font-family='"Liberation Sans", sans-serif' >0°C</text>
<text x="419.8" y="108.8" font-size="7.8" text-anchor="end" font-weight="bold" fill="#0a0a0a" font-family='"Liberation Sans", sans-serif' >1 cm</text>
<line x1="402" y1="110.8" x2="420.4" y2="110.8" stroke="#0a0a0a" stroke-width="1.2"/>
<clipPath id="clip2"><rect x="461.9" y="20.5" width="90.7" height="92.1"/></clipPath>
<g clip-path="url(#clip2)">
<rect x="461.9" y="20.5" width="90.7" height="92.1" fill="url(#bgA)"/>
<ellipse cx="467.9" cy="104.6" rx="22" ry="14" fill="#eef1f5" opacity="0.8" filter="url(#blur2)"/>
<ellipse cx="507.85" cy="67.05" rx="43.4" ry="43.2" fill="#d6d8df"/>
<ellipse cx="510.75" cy="64.05" rx="32" ry="33.5" fill="#bbbec9" filter="url(#blur1)"/>
<path d="M485.25 44.55 A33 34 0 0 0 499.25 96.55" stroke="#eef0f4" stroke-width="1.0" fill="none" opacity="0.55" filter="url(#blur05)"/>
<path d="M469.25 76.55 A42 42 0 0 1 489.25 29.55" stroke="#eef0f4" stroke-width="3.2" fill="none" opacity="0.85" filter="url(#blur1)"/>
<path d="M535.25 38.55 A42 42 0 0 1 545.25 61.55" stroke="#f2f3f6" stroke-width="3.5" fill="none" opacity="0.8" filter="url(#blur1)"/>
<path d="M471.25 84.55 A42 42 0 0 0 497.25 106.55" stroke="#e6e8ed" stroke-width="2.5" fill="none" opacity="0.8" filter="url(#blur1)"/>
<path d="M507.85 23.85 A43.4 43.2 0 0 1 527.25 105.55" stroke="#7d808c" stroke-width="0.7" fill="none"/>
<path d="M507.85 23.85 A43.4 43.2 0 0 0 477.25 36.55" stroke="#a9acb6" stroke-width="0.6" fill="none"/>
<ellipse cx="502.25" cy="98.55" rx="2.4" ry="1.8" fill="#e9ebef" stroke="#9a9da8" stroke-width="0.4" opacity="0.9"/>
<text x="506.25" y="59.9" font-size="9.2" text-anchor="middle" font-weight="bold" font-style="italic" font-family='"Liberation Serif", serif'><tspan fill="#e8607a">P</tspan><tspan fill="#5aaee8">D</tspan><tspan fill="#a8c870">H</tspan></text>
<text x="505.65" y="71.3" font-size="9.5" text-anchor="middle" font-weight="bold" font-style="italic" fill="#505157" font-family='"Liberation Serif", serif'>Hydrogel</text>
</g>
<text x="464.6" y="29.6" font-size="10.5" text-anchor="start" font-weight="bold" fill="#0a0a0a" font-family='"Liberation Sans", sans-serif' >10°C</text>
<text x="550.6" y="108.7" font-size="7.8" text-anchor="end" font-weight="bold" fill="#0a0a0a" font-family='"Liberation Sans", sans-serif' >1 cm</text>
<line x1="532.8" y1="110.7" x2="551.2" y2="110.7" stroke="#0a0a0a" stroke-width="1.2"/>
<clipPath id="clip3"><rect x="592.1" y="20.4" width="92" height="92.4"/></clipPath>
<g clip-path="url(#clip3)">
<rect x="592.1" y="20.4" width="92" height="92.4" fill="url(#bgA)"/>
<ellipse cx="598.1" cy="104.8" rx="22" ry="14" fill="#eef1f5" opacity="0.8" filter="url(#blur2)"/>
<ellipse cx="638.7" cy="67.1" rx="43.4" ry="43.2" fill="#d6d8df"/>
<ellipse cx="641.6" cy="64.1" rx="32" ry="33.5" fill="#bbbec9" filter="url(#blur1)"/>
<path d="M616.1 44.6 A33 34 0 0 0 630.1 96.6" stroke="#eef0f4" stroke-width="1.0" fill="none" opacity="0.55" filter="url(#blur05)"/>
<path d="M600.1 76.6 A42 42 0 0 1 620.1 29.6" stroke="#eef0f4" stroke-width="3.2" fill="none" opacity="0.85" filter="url(#blur1)"/>
<path d="M666.1 38.6 A42 42 0 0 1 676.1 61.6" stroke="#f2f3f6" stroke-width="3.5" fill="none" opacity="0.8" filter="url(#blur1)"/>
<path d="M602.1 84.6 A42 42 0 0 0 628.1 106.6" stroke="#e6e8ed" stroke-width="2.5" fill="none" opacity="0.8" filter="url(#blur1)"/>
<path d="M638.7 23.9 A43.4 43.2 0 0 1 658.1 105.6" stroke="#7d808c" stroke-width="0.7" fill="none"/>
<path d="M638.7 23.9 A43.4 43.2 0 0 0 608.1 36.6" stroke="#a9acb6" stroke-width="0.6" fill="none"/>
<ellipse cx="633.1" cy="98.6" rx="2.4" ry="1.8" fill="#e9ebef" stroke="#9a9da8" stroke-width="0.4" opacity="0.9"/>
<text x="637.1" y="59.8" font-size="9.2" text-anchor="middle" font-weight="bold" font-style="italic" font-family='"Liberation Serif", serif'><tspan fill="#e8607a">P</tspan><tspan fill="#5aaee8">D</tspan><tspan fill="#a8c870">H</tspan></text>
<text x="636.5" y="71.2" font-size="9.5" text-anchor="middle" font-weight="bold" font-style="italic" fill="#505157" font-family='"Liberation Serif", serif'>Hydrogel</text>
</g>
<text x="594.8" y="29.5" font-size="10.5" text-anchor="start" font-weight="bold" fill="#0a0a0a" font-family='"Liberation Sans", sans-serif' >20°C</text>
<text x="682.1" y="108.9" font-size="7.8" text-anchor="end" font-weight="bold" fill="#0a0a0a" font-family='"Liberation Sans", sans-serif' >1 cm</text>
<line x1="664.3" y1="110.9" x2="682.7" y2="110.9" stroke="#0a0a0a" stroke-width="1.2"/>
<clipPath id="clip4"><rect x="330.2" y="158" width="90.8" height="92.5"/></clipPath>
<g clip-path="url(#clip4)">
<rect x="330.2" y="158" width="90.8" height="92.5" fill="url(#bgC)"/>
<ellipse cx="333.2" cy="235.5" rx="12" ry="18" fill="#d9dee6" opacity="0.9" filter="url(#blur2)"/>
<ellipse cx="418" cy="166" rx="12" ry="12" fill="#d3d9e3" opacity="0.9" filter="url(#blur2)"/>
<ellipse cx="342.2" cy="162" rx="16" ry="6" fill="#dde4ee" opacity="0.9" filter="url(#blur1)"/>
<ellipse cx="375.8" cy="204.55" rx="44" ry="45" fill="url(#discW)"/>
<ellipse cx="378.6" cy="205.25" rx="37" ry="37" fill="none" stroke="#f2f4f2" stroke-width="1.2" opacity="0.4" filter="url(#blur05)"/>
<path d="M418.6 212.25 A44 45 0 0 1 385.6 248.25" stroke="#b9bfbf" stroke-width="1.0" fill="none" opacity="0.6" filter="url(#blur05)"/>
<path d="M380.6 206.25 L399.6 218.25" stroke="#f0f7f7" stroke-width="2.4" opacity="0.75" filter="url(#blur1)"/>
</g>
<text x="332.9" y="167.1" font-size="10.5" text-anchor="start" font-weight="bold" fill="#0a0a0a" font-family='"Liberation Sans", sans-serif' >50°C</text>
<text x="419" y="246.6" font-size="7.8" text-anchor="end" font-weight="bold" fill="#0a0a0a" font-family='"Liberation Sans", sans-serif' >1 cm</text>
<line x1="401.2" y1="248.6" x2="419.6" y2="248.6" stroke="#0a0a0a" stroke-width="1.2"/>
<clipPath id="clip5"><rect x="458.3" y="157.9" width="97.3" height="92.9"/></clipPath>
<g clip-path="url(#clip5)">
<rect x="458.3" y="157.9" width="97.3" height="92.9" fill="url(#bgB)"/>
<ellipse cx="460.3" cy="232.8" rx="14" ry="20" fill="#e4e8ef" opacity="0.8" filter="url(#blur2)"/>
<ellipse cx="507.45" cy="204.05" rx="46.4" ry="45.8" fill="url(#disc40)"/>
<path d="M546.95 182.35 A44 44 0 0 1 550.95 216.35" stroke="#9ea2ad" stroke-width="1.0" fill="none" opacity="0.7" filter="url(#blur05)"/>
<path d="M476.95 214.35 A38 38 0 0 0 494.95 237.35" stroke="#eceef2" stroke-width="1.0" fill="none" opacity="0.5" filter="url(#blur05)"/>
<path d="M514.95 209.35 L528.95 215.35" stroke="#eef0f4" stroke-width="1.6" opacity="0.45" filter="url(#blur1)"/>
</g>
<text x="461" y="167" font-size="10.5" text-anchor="start" font-weight="bold" fill="#0a0a0a" font-family='"Liberation Sans", sans-serif' >40°C</text>
<text x="553.6" y="246.9" font-size="7.8" text-anchor="end" font-weight="bold" fill="#0a0a0a" font-family='"Liberation Sans", sans-serif' >1 cm</text>
<line x1="535.8" y1="248.9" x2="554.2" y2="248.9" stroke="#0a0a0a" stroke-width="1.2"/>
<clipPath id="clip6"><rect x="592.2" y="158" width="90.9" height="92.7"/></clipPath>
<g clip-path="url(#clip6)">
<rect x="592.2" y="158" width="90.9" height="92.7" fill="url(#bgB)"/>
<ellipse cx="637.95" cy="204.85" rx="44" ry="44.5" fill="url(#disc30)" stroke="#b0b2bc" stroke-width="0.6"/>
<path d="M627.65 176.35 A34 34 0 0 0 639.65 242.35" stroke="#eeeef3" stroke-width="1.0" fill="none" opacity="0.75" filter="url(#blur05)"/>
<path d="M627.65 176.35 A34 34 0 0 1 667.65 220.35" stroke="#e2e2e8" stroke-width="0.8" fill="none" opacity="0.5"/>
<ellipse cx="636.65" cy="207.35" rx="18" ry="4.5" fill="#acaeba" opacity="0.6" filter="url(#blur2)"/>
<path d="M651.65 210.35 L664.65 216.35" stroke="#e8f0f6" stroke-width="2.2" opacity="0.6" filter="url(#blur1)"/>
<ellipse cx="631.65" cy="197.35" rx="4" ry="3" fill="#cdbcc8" opacity="0.6" filter="url(#blur1)"/>
<ellipse cx="638.65" cy="197.35" rx="4" ry="3" fill="#b8c4d8" opacity="0.6" filter="url(#blur1)"/>
</g>
<text x="594.9" y="167.1" font-size="10.5" text-anchor="start" font-weight="bold" fill="#0a0a0a" font-family='"Liberation Sans", sans-serif' >30°C</text>
<text x="681.1" y="246.8" font-size="7.8" text-anchor="end" font-weight="bold" fill="#0a0a0a" font-family='"Liberation Sans", sans-serif' >1 cm</text>
<line x1="663.3" y1="248.8" x2="681.7" y2="248.8" stroke="#0a0a0a" stroke-width="1.2"/>
<path d="M425.8 48.45 L445.9 48.45 L445.9 43.8 L455.5 53.3 L445.9 62.8 L445.9 58.15 L425.8 58.15 Z" fill="#fb2a0e"/>
<path d="M559.3 51.65 L579.9 51.65 L579.9 47 L589.5 56.5 L579.9 66 L579.9 61.35 L559.3 61.35 Z" fill="#fb2a0e"/>
<path d="M631.4 116.9 L631.4 137.4 L626.8 137.4 L636.4 147 L646 137.4 L641.4 137.4 L641.4 116.9 Z" fill="#fb2a0e"/>
<path d="M588.3 190.95 L566.6 190.95 L566.6 186.3 L557 195.8 L566.6 205.3 L566.6 200.65 L588.3 200.65 Z" fill="#fb2a0e"/>
<path d="M453.7 191.65 L433.3 191.65 L433.3 187 L423.7 196.5 L433.3 206 L433.3 201.35 L453.7 201.35 Z" fill="#fb2a0e"/>
<path d="M374.7 146.9 L374.7 126.5 L370.1 126.5 L379.7 116.9 L389.3 126.5 L384.7 126.5 L384.7 146.9 Z" fill="#2bcff8"/>
<text x="502.1" y="129.3" font-size="19" text-anchor="middle" font-weight="bold" fill="#0a0a0a" font-family='"Liberation Sans", sans-serif' stroke="#0a0a0a" stroke-width="0.35">&gt;1000</text>
<text x="502.5" y="151.2" font-size="19" text-anchor="middle" font-weight="bold" fill="#0a0a0a" font-family='"Liberation Sans", sans-serif' stroke="#0a0a0a" stroke-width="0.35">cycles</text>
<text x="0" y="0" font-size="18.5" font-weight="bold" fill="#000" stroke="#000" stroke-width="1.0" stroke-linejoin="round" font-family='"Liberation Sans", sans-serif' transform="translate(327.8 14.6) scale(1.1 1)">b</text>
<g stroke-dasharray="5.2 2" stroke-width="1.15" fill="none">
<path d="M366.2 390 H552.9" stroke="#7a7a7a"/>
<path d="M456.24 390 V509.4" stroke="#6a6a6a"/>
<path d="M487.02 390 V509.4" stroke="#7a7a7a"/>
<path d="M529.14 390 V509.4" stroke="#333333"/>
<path d="M552.9 390 V509.4" stroke="#8a8a8a"/>
</g>
<path d="M388.2 304.51 L424.38 308.09 L447.6 370.18 L483.78 454 L543.72 487.91 L600.96 493.88 L645.24 499.37" fill="none" stroke="#f8bd2c" stroke-width="1.1" stroke-linejoin="round" stroke-linecap="round" />
<path d="M388.2 299.26 L424.38 301.64 L447.6 307.85 L483.24 385.94 L543.72 477.64 L600.96 493.4 L645.24 499.13" fill="none" stroke="#f25f4f" stroke-width="1.1" stroke-linejoin="round" stroke-linecap="round" />
<path d="M388.2 296.15 L424.38 298.54 L490.8 305.7 L530.22 393.58 L579.36 480.74 L600.96 492.68 L645.24 500.33" fill="none" stroke="#c22fc0" stroke-width="1.1" stroke-linejoin="round" stroke-linecap="round" />
<path d="M388.2 276.57 L424.38 280.15 L490.8 294.48 L531.3 320.75 L579.36 476.45 L600.96 493.4 L645.24 500.8" fill="none" stroke="#4f22c8" stroke-width="1.1" stroke-linejoin="round" stroke-linecap="round" />
<rect x="385.8" y="302.11" width="4.8" height="4.8" fill="#f8bd2c"/>
<rect x="421.98" y="305.69" width="4.8" height="4.8" fill="#f8bd2c"/>
<rect x="445.2" y="367.78" width="4.8" height="4.8" fill="#f8bd2c"/>
<rect x="481.38" y="451.6" width="4.8" height="4.8" fill="#f8bd2c"/>
<rect x="541.32" y="485.51" width="4.8" height="4.8" fill="#f8bd2c"/>
<rect x="598.56" y="491.48" width="4.8" height="4.8" fill="#f8bd2c"/>
<rect x="642.84" y="496.97" width="4.8" height="4.8" fill="#f8bd2c"/>
<circle cx="388.2" cy="299.26" r="2.7" fill="#f25f4f"/>
<circle cx="424.38" cy="301.64" r="2.7" fill="#f25f4f"/>
<circle cx="447.6" cy="307.85" r="2.7" fill="#f25f4f"/>
<circle cx="483.24" cy="385.94" r="2.7" fill="#f25f4f"/>
<circle cx="543.72" cy="477.64" r="2.7" fill="#f25f4f"/>
<circle cx="600.96" cy="493.4" r="2.7" fill="#f25f4f"/>
<circle cx="645.24" cy="499.13" r="2.7" fill="#f25f4f"/>
<path d="M388.2 292.75 L391.43 298.19 L384.97 298.19 Z" fill="#c22fc0"/>
<path d="M424.38 295.14 L427.61 300.58 L421.15 300.58 Z" fill="#c22fc0"/>
<path d="M490.8 302.3 L494.03 307.74 L487.57 307.74 Z" fill="#c22fc0"/>
<path d="M530.22 390.18 L533.45 395.62 L526.99 395.62 Z" fill="#c22fc0"/>
<path d="M579.36 477.34 L582.59 482.78 L576.13 482.78 Z" fill="#c22fc0"/>
<path d="M600.96 489.28 L604.19 494.72 L597.73 494.72 Z" fill="#c22fc0"/>
<path d="M645.24 496.93 L648.47 502.37 L642.01 502.37 Z" fill="#c22fc0"/>
<path d="M388.2 279.97 L391.43 274.53 L384.97 274.53 Z" fill="#4f22c8"/>
<path d="M424.38 283.55 L427.61 278.11 L421.15 278.11 Z" fill="#4f22c8"/>
<path d="M490.8 297.88 L494.03 292.44 L487.57 292.44 Z" fill="#4f22c8"/>
<path d="M531.3 324.15 L534.53 318.71 L528.07 318.71 Z" fill="#4f22c8"/>
<path d="M579.36 479.85 L582.59 474.41 L576.13 474.41 Z" fill="#4f22c8"/>
<path d="M600.96 496.8 L604.19 491.36 L597.73 491.36 Z" fill="#4f22c8"/>
<path d="M645.24 504.2 L648.47 498.76 L642.01 498.76 Z" fill="#4f22c8"/>
<rect x="366.2" y="270.6" width="297.6" height="238.8" fill="none" stroke="#333" stroke-width="1.2"/>
<line x1="362.1" y1="509.4" x2="366.2" y2="509.4" stroke="#333" stroke-width="1"/>
<text transform="translate(358.4 512.3) scale(1 1.12)" font-size="8" text-anchor="end" font-weight="bold" fill="#111" font-family='"Liberation Sans", sans-serif' >0</text>
<line x1="364.3" y1="497.46" x2="366.2" y2="497.46" stroke="#1a1a1a" stroke-width="1"/>
<line x1="362.1" y1="485.52" x2="366.2" y2="485.52" stroke="#333" stroke-width="1"/>
<text transform="translate(358.4 488.42) scale(1 1.12)" font-size="8" text-anchor="end" font-weight="bold" fill="#111" font-family='"Liberation Sans", sans-serif' >10</text>
<line x1="364.3" y1="473.58" x2="366.2" y2="473.58" stroke="#1a1a1a" stroke-width="1"/>
<line x1="362.1" y1="461.64" x2="366.2" y2="461.64" stroke="#333" stroke-width="1"/>
<text transform="translate(358.4 464.54) scale(1 1.12)" font-size="8" text-anchor="end" font-weight="bold" fill="#111" font-family='"Liberation Sans", sans-serif' >20</text>
<line x1="364.3" y1="449.7" x2="366.2" y2="449.7" stroke="#1a1a1a" stroke-width="1"/>
<line x1="362.1" y1="437.76" x2="366.2" y2="437.76" stroke="#333" stroke-width="1"/>
<text transform="translate(358.4 440.66) scale(1 1.12)" font-size="8" text-anchor="end" font-weight="bold" fill="#111" font-family='"Liberation Sans", sans-serif' >30</text>
<line x1="364.3" y1="425.82" x2="366.2" y2="425.82" stroke="#1a1a1a" stroke-width="1"/>
<line x1="362.1" y1="413.88" x2="366.2" y2="413.88" stroke="#333" stroke-width="1"/>
<text transform="translate(358.4 416.78) scale(1 1.12)" font-size="8" text-anchor="end" font-weight="bold" fill="#111" font-family='"Liberation Sans", sans-serif' >40</text>
<line x1="364.3" y1="401.94" x2="366.2" y2="401.94" stroke="#1a1a1a" stroke-width="1"/>
<line x1="362.1" y1="390" x2="366.2" y2="390" stroke="#333" stroke-width="1"/>
<text transform="translate(358.4 392.9) scale(1 1.12)" font-size="8" text-anchor="end" font-weight="bold" fill="#111" font-family='"Liberation Sans", sans-serif' >50</text>
<line x1="364.3" y1="378.06" x2="366.2" y2="378.06" stroke="#1a1a1a" stroke-width="1"/>
<line x1="362.1" y1="366.12" x2="366.2" y2="366.12" stroke="#333" stroke-width="1"/>
<text transform="translate(358.4 369.02) scale(1 1.12)" font-size="8" text-anchor="end" font-weight="bold" fill="#111" font-family='"Liberation Sans", sans-serif' >60</text>
<line x1="364.3" y1="354.18" x2="366.2" y2="354.18" stroke="#1a1a1a" stroke-width="1"/>
<line x1="362.1" y1="342.24" x2="366.2" y2="342.24" stroke="#333" stroke-width="1"/>
<text transform="translate(358.4 345.14) scale(1 1.12)" font-size="8" text-anchor="end" font-weight="bold" fill="#111" font-family='"Liberation Sans", sans-serif' >70</text>
<line x1="364.3" y1="330.3" x2="366.2" y2="330.3" stroke="#1a1a1a" stroke-width="1"/>
<line x1="362.1" y1="318.36" x2="366.2" y2="318.36" stroke="#333" stroke-width="1"/>
<text transform="translate(358.4 321.26) scale(1 1.12)" font-size="8" text-anchor="end" font-weight="bold" fill="#111" font-family='"Liberation Sans", sans-serif' >80</text>
<line x1="364.3" y1="306.42" x2="366.2" y2="306.42" stroke="#1a1a1a" stroke-width="1"/>
<line x1="362.1" y1="294.48" x2="366.2" y2="294.48" stroke="#333" stroke-width="1"/>
<text transform="translate(358.4 297.38) scale(1 1.12)" font-size="8" text-anchor="end" font-weight="bold" fill="#111" font-family='"Liberation Sans", sans-serif' >90</text>
<line x1="364.3" y1="282.54" x2="366.2" y2="282.54" stroke="#1a1a1a" stroke-width="1"/>
<line x1="362.1" y1="270.6" x2="366.2" y2="270.6" stroke="#333" stroke-width="1"/>
<text transform="translate(358.4 273.5) scale(1 1.12)" font-size="8" text-anchor="end" font-weight="bold" fill="#111" font-family='"Liberation Sans", sans-serif' >100</text>
<line x1="366.6" y1="509.4" x2="366.6" y2="511.6" stroke="#333" stroke-width="1"/>
<line x1="393.6" y1="509.4" x2="393.6" y2="513.8" stroke="#333" stroke-width="1"/>
<text transform="translate(393.6 523.7) scale(1 1.12)" font-size="8" text-anchor="middle" font-weight="bold" fill="#111" font-family='"Liberation Sans", sans-serif' >20</text>
<line x1="420.6" y1="509.4" x2="420.6" y2="511.6" stroke="#333" stroke-width="1"/>
<line x1="447.6" y1="509.4" x2="447.6" y2="513.8" stroke="#333" stroke-width="1"/>
<text transform="translate(447.6 523.7) scale(1 1.12)" font-size="8" text-anchor="middle" font-weight="bold" fill="#111" font-family='"Liberation Sans", sans-serif' >30</text>
<line x1="474.6" y1="509.4" x2="474.6" y2="511.6" stroke="#333" stroke-width="1"/>
<line x1="501.6" y1="509.4" x2="501.6" y2="513.8" stroke="#333" stroke-width="1"/>
<text transform="translate(501.6 523.7) scale(1 1.12)" font-size="8" text-anchor="middle" font-weight="bold" fill="#111" font-family='"Liberation Sans", sans-serif' >40</text>
<line x1="528.6" y1="509.4" x2="528.6" y2="511.6" stroke="#333" stroke-width="1"/>
<line x1="555.6" y1="509.4" x2="555.6" y2="513.8" stroke="#333" stroke-width="1"/>
<text transform="translate(555.6 523.7) scale(1 1.12)" font-size="8" text-anchor="middle" font-weight="bold" fill="#111" font-family='"Liberation Sans", sans-serif' >50</text>
<line x1="582.6" y1="509.4" x2="582.6" y2="511.6" stroke="#333" stroke-width="1"/>
<line x1="609.6" y1="509.4" x2="609.6" y2="513.8" stroke="#333" stroke-width="1"/>
<text transform="translate(609.6 523.7) scale(1 1.12)" font-size="8" text-anchor="middle" font-weight="bold" fill="#111" font-family='"Liberation Sans", sans-serif' >60</text>
<line x1="636.6" y1="509.4" x2="636.6" y2="511.6" stroke="#333" stroke-width="1"/>
<line x1="663.6" y1="509.4" x2="663.6" y2="513.8" stroke="#333" stroke-width="1"/>
<text transform="translate(663.6 523.7) scale(1 1.12)" font-size="8" text-anchor="middle" font-weight="bold" fill="#111" font-family='"Liberation Sans", sans-serif' >70</text>
<text transform="translate(522.5 533.6) scale(1 1.12)" font-size="8.5" text-anchor="middle" font-weight="bold" fill="#111" font-family='"Liberation Sans", sans-serif' >Temperature ( °C )</text>
<text transform="translate(340.4 390) rotate(-90)" font-size="8.6" text-anchor="middle" fill="#000" stroke="#000" stroke-width="0.25" font-family='"Liberation Sans", sans-serif'>T<tspan font-size="5.8" dy="2">lum</tspan><tspan dy="-2"> (%)</tspan></text>
<line x1="577.2" y1="280.2" x2="595" y2="280.2" stroke="#f8bd2c" stroke-width="1.1"/>
<rect x="583.89" y="278.09" width="4.22" height="4.22" fill="#f8bd2c"/>
<text x="597.6" y="282.9" font-size="7.9" text-anchor="start" font-weight="bold" fill="#111" font-family='"Liberation Sans", sans-serif' >PNIPAm</text>
<line x1="577.2" y1="290.1" x2="595" y2="290.1" stroke="#f25f4f" stroke-width="1.1"/>
<circle cx="586" cy="290.1" r="2.38" fill="#f25f4f"/>
<text x="597.6" y="292.8" font-size="7.9" text-anchor="start" font-weight="bold" fill="#111" font-family='"Liberation Sans", sans-serif' >PNIPAm-0.45</text>
<line x1="577.2" y1="300" x2="595" y2="300" stroke="#c22fc0" stroke-width="1.1"/>
<path d="M586 297.01 L588.84 301.8 L583.16 301.8 Z" fill="#c22fc0"/>
<text x="597.6" y="302.7" font-size="7.9" text-anchor="start" font-weight="bold" fill="#111" font-family='"Liberation Sans", sans-serif' >PNIPAm-0.55</text>
<line x1="577.2" y1="310.1" x2="595" y2="310.1" stroke="#4f22c8" stroke-width="1.1"/>
<path d="M586 313.09 L588.84 308.3 L583.16 308.3 Z" fill="#4f22c8"/>
<text x="597.6" y="312.8" font-size="7.9" text-anchor="start" font-weight="bold" fill="#111" font-family='"Liberation Sans", sans-serif' >PNIPAm-0.65</text>
<text x="0" y="0" font-size="18.5" font-weight="bold" fill="#000" stroke="#000" stroke-width="1.0" stroke-linejoin="round" font-family='"Liberation Sans", sans-serif' transform="translate(324.6 287.3) scale(1.1 1)">d</text>
<path d="M35 773.3 L38.51 757.39 L41.85 742.7 L45.54 725.56 L50.81 701.08 L55.21 682.11 L59.77 664.98 L64.17 649.68 L68.73 635.6 L73.13 621.52 L77.52 608.67 L82.09 595.21 L86.48 581.74 L89.82 571.95 L92.45 563.38 L93.51 564 L94.74 565.22 L95.79 564 L97.2 565.83 L98.6 564 L99.66 565.83 L100.89 566.44 L101.94 568.28 L102.64 583.58" fill="none" stroke="#f5a623" stroke-width="1.35" stroke-linejoin="round" stroke-linecap="round" />
<line x1="102.64" y1="580.52" x2="102.73" y2="773.3" stroke="#f6bd5a" stroke-width="2.2"/>
<path d="M35 773.3 L40.27 767.79 L45.54 763.51 L52.57 759.22 L59.25 755.55 L70.14 751.27 L88.41 745.76 L103 741.48 L120.04 736.76 L140.42 730.89 L157.99 726.18 L179.95 720.06 L201.91 713.63 L220.01 708.12 L228.27 705.98 L241.27 703.23 L254.1 701.7 L266.92 700.17 L273.42 699.31 L276.59 699.86 L279.75 700.9 L282.91 702.31 L284.49 705.37 L286.25 707.33 L292.75 709.53 L298.55 709.04 L302.24 708.31 L304.88 709.53 L305.4 715.16" fill="none" stroke="#e6336d" stroke-width="1.35" stroke-linejoin="round" stroke-linecap="round" />
<path d="M35 773.3 L40.27 768.1 L45.54 763.81 L52.57 759.53 L59.25 755.8 L70.14 751.27 L88.41 745.52 L103 741.17 L120.04 736.4 L140.42 730.46 L157.99 725.56 L179.95 719.2 L201.91 712.41 L220.01 706.1 L228.27 702.92 L238.81 699.55 L247.6 697.29 L252.87 696.19 L255.68 696.19 L256.38 699.25 L256.91 707.2 L257.44 713.32 L258.84 714.55 L260.07 716.38 L260.16 721.28" fill="none" stroke="#6b2ad8" stroke-width="1.4" stroke-linejoin="round" stroke-linecap="round" />
<line x1="260.16" y1="718.22" x2="260.16" y2="773.3" stroke="#9a6fd8" stroke-width="2.2"/>
<line x1="305.49" y1="712.1" x2="305.49" y2="773.3" stroke="#ec5f98" stroke-width="1.8"/>
<path d="M35 543.1 H316.1 V773.3 M35 543.1 V773.3" fill="none" stroke="#6b6b6b" stroke-width="1.2"/>
<line x1="35" y1="773.3" x2="316.1" y2="773.3" stroke="#1a1a1a" stroke-width="1.3"/>
<line x1="30.7" y1="773.3" x2="35" y2="773.3" stroke="#333" stroke-width="1"/>
<text transform="translate(27.4 775.9) scale(1 1.12)" font-size="7.3" text-anchor="end" font-weight="bold" fill="#111" font-family='"Liberation Sans", sans-serif' >0</text>
<line x1="33" y1="758" x2="35" y2="758" stroke="#333" stroke-width="1"/>
<line x1="30.7" y1="742.7" x2="35" y2="742.7" stroke="#333" stroke-width="1"/>
<text transform="translate(27.4 745.3) scale(1 1.12)" font-size="7.3" text-anchor="end" font-weight="bold" fill="#111" font-family='"Liberation Sans", sans-serif' >5</text>
<line x1="33" y1="727.4" x2="35" y2="727.4" stroke="#333" stroke-width="1"/>
<line x1="30.7" y1="712.1" x2="35" y2="712.1" stroke="#333" stroke-width="1"/>
<text transform="translate(27.4 714.7) scale(1 1.12)" font-size="7.3" text-anchor="end" font-weight="bold" fill="#111" font-family='"Liberation Sans", sans-serif' >10</text>
<line x1="33" y1="696.8" x2="35" y2="696.8" stroke="#333" stroke-width="1"/>
<line x1="30.7" y1="681.5" x2="35" y2="681.5" stroke="#333" stroke-width="1"/>
<text transform="translate(27.4 684.1) scale(1 1.12)" font-size="7.3" text-anchor="end" font-weight="bold" fill="#111" font-family='"Liberation Sans", sans-serif' >15</text>
<line x1="33" y1="666.2" x2="35" y2="666.2" stroke="#333" stroke-width="1"/>
<line x1="30.7" y1="650.9" x2="35" y2="650.9" stroke="#333" stroke-width="1"/>
<text transform="translate(27.4 653.5) scale(1 1.12)" font-size="7.3" text-anchor="end" font-weight="bold" fill="#111" font-family='"Liberation Sans", sans-serif' >20</text>
<line x1="33" y1="635.6" x2="35" y2="635.6" stroke="#333" stroke-width="1"/>
<line x1="30.7" y1="620.3" x2="35" y2="620.3" stroke="#333" stroke-width="1"/>
<text transform="translate(27.4 622.9) scale(1 1.12)" font-size="7.3" text-anchor="end" font-weight="bold" fill="#111" font-family='"Liberation Sans", sans-serif' >25</text>
<line x1="33" y1="605" x2="35" y2="605" stroke="#333" stroke-width="1"/>
<line x1="30.7" y1="589.7" x2="35" y2="589.7" stroke="#333" stroke-width="1"/>
<text transform="translate(27.4 592.3) scale(1 1.12)" font-size="7.3" text-anchor="end" font-weight="bold" fill="#111" font-family='"Liberation Sans", sans-serif' >30</text>
<line x1="33" y1="574.4" x2="35" y2="574.4" stroke="#333" stroke-width="1"/>
<line x1="30.7" y1="559.1" x2="35" y2="559.1" stroke="#333" stroke-width="1"/>
<text transform="translate(27.4 561.7) scale(1 1.12)" font-size="7.3" text-anchor="end" font-weight="bold" fill="#111" font-family='"Liberation Sans", sans-serif' >35</text>
<line x1="35" y1="773" x2="35" y2="777.3" stroke="#1a1a1a" stroke-width="1"/>
<text transform="translate(35 787) scale(1 1.12)" font-size="7.3" text-anchor="middle" font-weight="bold" fill="#111" font-family='"Liberation Sans", sans-serif' >0</text>
<line x1="52.57" y1="773" x2="52.57" y2="775.3" stroke="#1a1a1a" stroke-width="1"/>
<line x1="70.14" y1="773" x2="70.14" y2="777.3" stroke="#1a1a1a" stroke-width="1"/>
<text transform="translate(70.14 787) scale(1 1.12)" font-size="7.3" text-anchor="middle" font-weight="bold" fill="#111" font-family='"Liberation Sans", sans-serif' >20</text>
<line x1="87.71" y1="773" x2="87.71" y2="775.3" stroke="#1a1a1a" stroke-width="1"/>
<line x1="105.28" y1="773" x2="105.28" y2="777.3" stroke="#1a1a1a" stroke-width="1"/>
<text transform="translate(105.28 787) scale(1 1.12)" font-size="7.3" text-anchor="middle" font-weight="bold" fill="#111" font-family='"Liberation Sans", sans-serif' >40</text>
<line x1="122.85" y1="773" x2="122.85" y2="775.3" stroke="#1a1a1a" stroke-width="1"/>
<line x1="140.42" y1="773" x2="140.42" y2="777.3" stroke="#1a1a1a" stroke-width="1"/>
<text transform="translate(140.42 787) scale(1 1.12)" font-size="7.3" text-anchor="middle" font-weight="bold" fill="#111" font-family='"Liberation Sans", sans-serif' >60</text>
<line x1="157.99" y1="773" x2="157.99" y2="775.3" stroke="#1a1a1a" stroke-width="1"/>
<line x1="175.56" y1="773" x2="175.56" y2="777.3" stroke="#1a1a1a" stroke-width="1"/>
<text transform="translate(175.56 787) scale(1 1.12)" font-size="7.3" text-anchor="middle" font-weight="bold" fill="#111" font-family='"Liberation Sans", sans-serif' >80</text>
<line x1="193.13" y1="773" x2="193.13" y2="775.3" stroke="#1a1a1a" stroke-width="1"/>
<line x1="210.7" y1="773" x2="210.7" y2="777.3" stroke="#1a1a1a" stroke-width="1"/>
<text transform="translate(210.7 787) scale(1 1.12)" font-size="7.3" text-anchor="middle" font-weight="bold" fill="#111" font-family='"Liberation Sans", sans-serif' >100</text>
<line x1="228.27" y1="773" x2="228.27" y2="775.3" stroke="#1a1a1a" stroke-width="1"/>
<line x1="245.84" y1="773" x2="245.84" y2="777.3" stroke="#1a1a1a" stroke-width="1"/>
<text transform="translate(245.84 787) scale(1 1.12)" font-size="7.3" text-anchor="middle" font-weight="bold" fill="#111" font-family='"Liberation Sans", sans-serif' >120</text>
<line x1="263.41" y1="773" x2="263.41" y2="775.3" stroke="#1a1a1a" stroke-width="1"/>
<line x1="280.98" y1="773" x2="280.98" y2="777.3" stroke="#1a1a1a" stroke-width="1"/>
<text transform="translate(280.98 787) scale(1 1.12)" font-size="7.3" text-anchor="middle" font-weight="bold" fill="#111" font-family='"Liberation Sans", sans-serif' >140</text>
<line x1="298.55" y1="773" x2="298.55" y2="775.3" stroke="#1a1a1a" stroke-width="1"/>
<line x1="316.12" y1="773" x2="316.12" y2="777.3" stroke="#1a1a1a" stroke-width="1"/>
<text transform="translate(316.12 787) scale(1 1.12)" font-size="7.3" text-anchor="middle" font-weight="bold" fill="#111" font-family='"Liberation Sans", sans-serif' >160</text>
<text transform="translate(175.5 800.6) scale(1 1.12)" font-size="7.4" text-anchor="middle" font-weight="bold" fill="#111" font-family='"Liberation Sans", sans-serif' >Strain (%)</text>
<text transform="translate(15.4 657.8) rotate(-90)" font-size="7.7" text-anchor="middle" font-weight="bold" fill="#111" font-family='"Liberation Sans", sans-serif'>Stress (kPa)</text>
<text transform="translate(44.7 557.2) scale(1 1.12)" font-size="8" text-anchor="start" font-weight="bold" fill="#111" font-family='"Liberation Sans", sans-serif' >129.35 kPa</text>
<text transform="translate(203.5 699.5) scale(1 1.12)" font-size="8" text-anchor="middle" font-weight="bold" fill="#111" font-family='"Liberation Sans", sans-serif' >8.09 kPa</text>
<text transform="translate(279.6 693.7) scale(1 1.12)" font-size="8" text-anchor="middle" font-weight="bold" fill="#111" font-family='"Liberation Sans", sans-serif' >7.70 kPa</text>
<line x1="271.8" y1="553.4" x2="289.1" y2="553.4" stroke="#8a4ae8" stroke-width="1.3"/>
<text transform="translate(291.1 556) scale(1 1.05)" font-size="7.3" text-anchor="start" font-weight="bold" fill="#111" font-family='"Liberation Sans", sans-serif' >P</text>
<line x1="271.8" y1="563" x2="289.1" y2="563" stroke="#ea4f82" stroke-width="1.3"/>
<text transform="translate(291.1 565.6) scale(1 1.05)" font-size="7.3" text-anchor="start" font-weight="bold" fill="#111" font-family='"Liberation Sans", sans-serif' >PD</text>
<line x1="271.8" y1="572.8" x2="289.1" y2="572.8" stroke="#f5b040" stroke-width="1.3"/>
<text transform="translate(291.1 575.4) scale(1 1.05)" font-size="7.3" text-anchor="start" font-weight="bold" fill="#111" font-family='"Liberation Sans", sans-serif' >PDH</text>
<text x="0" y="0" font-size="18.5" font-weight="bold" fill="#000" stroke="#000" stroke-width="1.0" stroke-linejoin="round" font-family='"Liberation Sans", sans-serif' transform="translate(0.4 552.3) scale(1.22 1)">e</text>
<path d="M373.4 547.6 C373.7 547.71 375.23 548.04 376 548.5 C376.77 548.96 378.95 550.33 380 551.5 C381.05 552.67 383.83 556.58 385 558.5 C386.17 560.42 388.83 565.49 390 568 C391.17 570.51 393.83 577.26 395 580 C396.17 582.74 398.83 588.93 400 591.5 C401.17 594.07 403.97 599.82 405 602 C406.03 604.18 407.98 608.62 408.8 610.2 C409.62 611.78 411.08 614.52 412 615.5 C412.92 616.48 415.77 618.12 416.7 618.6 C417.63 619.08 419.03 619.44 420 619.6 C420.97 619.76 423.25 619.98 425 620 C426.75 620.02 432.67 619.88 435 619.8 C437.33 619.72 443.02 619.42 445 619.3 C446.98 619.18 450.4 619.01 452 618.8 C453.6 618.59 457.53 618 458.7 617.5 C459.87 617 461.26 615.73 462 614.5 C462.74 613.27 464.36 608.58 465 607 C465.64 605.42 467.09 601.79 467.5 601 C467.91 600.21 468.23 600.08 468.5 600.2 C468.77 600.32 469.39 600.86 469.8 602 C470.21 603.14 471.45 608.19 472 610 C472.55 611.81 473.92 616.27 474.5 617.5 C475.08 618.73 476.12 619.94 477 620.5 C477.88 621.06 480.76 622.01 482 622.3 C483.24 622.59 486.08 622.94 487.6 623 C489.12 623.06 493.2 622.95 495 622.8 C496.8 622.65 501.25 621.89 503 621.7 C504.75 621.51 508.02 621.21 510 621.2 C511.98 621.19 517.08 621.41 520 621.6 C522.92 621.79 532.15 622.6 535 622.8 C537.85 623 541.95 623.25 544.4 623.3 C546.85 623.35 553.55 623.35 556 623.2 C558.45 623.05 563.53 622.34 565.4 622 C567.27 621.66 570.76 620.73 572 620.3 C573.24 619.87 575.07 618.92 576 618.3 C576.93 617.68 579.09 615.91 580 615 C580.91 614.09 582.87 612.02 583.8 610.5 C584.73 608.98 587.08 604.1 588 602 C588.92 599.9 590.88 594.72 591.7 592.5 C592.52 590.28 594.23 585.02 595 583 C595.77 580.98 597.6 576.45 598.3 575.2 C599 573.95 600.22 572.68 601 572.3 C601.78 571.91 604.18 571.87 605 571.9 C605.82 571.93 607.36 572.18 608 572.6 C608.64 573.02 609.95 574.7 610.5 575.5 C611.05 576.3 612.06 578.1 612.7 579.5 C613.34 580.9 615.08 585.34 616 587.5 C616.92 589.66 619.61 595.9 620.6 598 C621.59 600.1 623.58 603.91 624.5 605.5 C625.42 607.09 627.57 610.2 628.5 611.6 C629.43 613 631.58 616.33 632.5 617.5 C633.42 618.67 635.29 621 636.4 621.6 C637.51 622.2 640.41 622.44 642 622.6 C643.59 622.76 647.73 622.92 650 623 C652.27 623.08 660.16 623.26 661.5 623.3" fill="none" stroke="#8b2a9e" stroke-width="1.45" stroke-linejoin="round" stroke-linecap="round" />
<path d="M373.6 648.5 C374.11 648.79 376.86 650.1 378 651 C379.14 651.9 382.12 654.98 383.4 656.2 C384.68 657.43 387.65 660.01 389 661.5 C390.35 662.99 393.48 666.78 395 669 C396.52 671.22 400.37 677.77 402 680.5 C403.63 683.23 407.77 690.59 409 692.4 C410.23 694.21 411.68 695.39 412.5 696 C413.32 696.61 414.89 697.34 416 697.6 C417.11 697.86 420.37 698.12 422 698.2 C423.63 698.28 427.9 698.37 430 698.3 C432.1 698.23 437.67 697.8 440 697.6 C442.33 697.4 447.9 696.88 450 696.6 C452.1 696.32 456.6 695.56 458 695.2 C459.4 694.84 461.24 694.05 462 693.5 C462.76 692.95 463.98 691.61 464.5 690.5 C465.02 689.39 466.07 685.09 466.5 684 C466.93 682.91 467.79 681.2 468.2 681.2 C468.61 681.2 469.56 682.91 470 684 C470.44 685.09 471.48 689.22 472 690.5 C472.52 691.78 473.8 694.15 474.5 695 C475.2 695.85 477.18 697.33 478 697.8 C478.82 698.27 480.1 698.88 481.5 699 C482.9 699.12 487.82 698.88 490 698.8 C492.18 698.72 497.87 698.53 500.2 698.3 C502.53 698.07 507.92 696.9 510 696.8 C512.08 696.69 514.83 697.19 518 697.4 C521.17 697.61 533.47 698.48 537.2 698.6 C540.93 698.72 547.11 698.52 550 698.4 C552.89 698.28 559.9 697.83 562 697.6 C564.1 697.37 566.54 696.8 568 696.4 C569.46 696 573.27 694.71 574.5 694.2 C575.73 693.69 577.64 692.56 578.5 692 C579.36 691.44 581.08 690.33 581.9 689.4 C582.72 688.47 584.62 685.42 585.5 684 C586.38 682.58 588.47 678.8 589.4 677.2 C590.33 675.6 592.5 671.72 593.5 670.3 C594.5 668.88 597.03 665.78 598 665 C598.97 664.22 600.78 663.72 601.8 663.6 C602.81 663.48 605.74 663.77 606.7 664 C607.66 664.23 609.28 665.18 610 665.6 C610.72 666.02 612.2 666.97 612.9 667.6 C613.6 668.23 615.28 670.16 616 671 C616.72 671.84 618.34 673.83 619.1 674.8 C619.86 675.77 621.62 678.13 622.5 679.3 C623.38 680.47 625.67 683.49 626.6 684.8 C627.53 686.11 629.49 689.06 630.5 690.5 C631.51 691.94 634.07 696.2 635.3 697.1 C636.52 698 639.41 698.03 641 698.2 C642.59 698.38 646.51 698.44 648.9 698.6 C651.29 698.76 660.03 699.48 661.5 699.6" fill="none" stroke="#f2304e" stroke-width="1.45" stroke-linejoin="round" stroke-linecap="round" />
<path d="M373.4 723.9 C373.82 724.2 376 725.73 377 726.5 C378 727.27 380.83 729.27 382 730.5 C383.17 731.73 385.72 735.25 387 737 C388.28 738.75 391.6 743.4 393 745.5 C394.4 747.6 397.6 752.84 399 755 C400.4 757.16 403.72 762.25 405 764 C406.28 765.75 409.01 769.01 410 770 C410.99 770.99 412.72 772.08 413.5 772.5 C414.28 772.92 415.36 773.44 416.7 773.6 C418.04 773.76 422.87 773.92 425 773.9 C427.13 773.88 432.67 773.53 435 773.4 C437.33 773.27 442.67 772.99 445 772.8 C447.33 772.61 453.25 772.01 455 771.8 C456.75 771.59 459.01 771.33 460 771 C460.99 770.67 462.86 769.76 463.5 769 C464.14 768.24 465.06 765.78 465.5 764.5 C465.94 763.22 466.95 758.93 467.3 758 C467.65 757.07 468.19 756.38 468.5 756.5 C468.81 756.62 469.65 758.01 470 759 C470.35 759.99 471.09 763.66 471.5 765 C471.91 766.34 472.98 769.54 473.5 770.5 C474.02 771.46 475.24 772.77 476 773.2 C476.76 773.63 478.37 774.08 480 774.2 C481.63 774.32 487.67 774.22 490 774.2 C492.33 774.18 497.67 774.14 500 774 C502.33 773.86 507.67 773.08 510 773 C512.33 772.92 516.5 773.21 520 773.3 C523.5 773.39 535.1 773.86 540 773.8 C544.9 773.74 558.73 773.09 562 772.8 C565.27 772.51 566.54 771.74 568 771.3 C569.46 770.86 573.27 769.5 574.5 769 C575.73 768.5 577.64 767.52 578.5 767 C579.36 766.48 581.08 765.43 581.9 764.5 C582.72 763.57 584.62 760.39 585.5 759 C586.38 757.61 588.47 754.18 589.4 752.6 C590.33 751.02 592.61 746.85 593.5 745.5 C594.39 744.15 596.24 741.65 597 741 C597.76 740.35 599.18 740.05 600 739.9 C600.82 739.75 603.12 739.7 604 739.7 C604.88 739.7 606.74 739.76 607.5 739.9 C608.26 740.04 609.87 740.61 610.5 740.9 C611.13 741.19 612.14 741.63 612.9 742.4 C613.66 743.17 615.99 746.12 617 747.5 C618.01 748.88 620.61 752.8 621.6 754.2 C622.59 755.6 624.64 758.35 625.5 759.5 C626.36 760.65 628.24 763.05 629 764.1 C629.76 765.15 631.26 767.51 632 768.5 C632.74 769.49 634.37 771.98 635.3 772.6 C636.23 773.22 638.4 773.64 640 773.8 C641.6 773.96 646.49 773.92 649 774 C651.51 774.08 660.04 774.44 661.5 774.5" fill="none" stroke="#f5821f" stroke-width="1.45" stroke-linejoin="round" stroke-linecap="round" />
<path d="M373.4 545.9 H661.5 V775 M373.4 545.9 V775" fill="none" stroke="#6b6b6b" stroke-width="1.2"/>
<line x1="373.4" y1="775" x2="661.5" y2="775" stroke="#1a1a1a" stroke-width="1.3"/>
<line x1="661.5" y1="546" x2="661.5" y2="775" stroke="#1a1a1a" stroke-width="1.3"/>
<line x1="376.6" y1="775" x2="376.6" y2="772" stroke="#1a1a1a" stroke-width="1"/>
<text transform="translate(376.6 784.8) scale(1 1.12)" font-size="7.7" text-anchor="middle" font-weight="bold" fill="#111" font-family='"Liberation Sans", sans-serif' >500</text>
<line x1="417.27" y1="775" x2="417.27" y2="772" stroke="#1a1a1a" stroke-width="1"/>
<text transform="translate(417.27 784.8) scale(1 1.12)" font-size="7.7" text-anchor="middle" font-weight="bold" fill="#111" font-family='"Liberation Sans", sans-serif' >1000</text>
<line x1="457.94" y1="775" x2="457.94" y2="772" stroke="#1a1a1a" stroke-width="1"/>
<text transform="translate(457.94 784.8) scale(1 1.12)" font-size="7.7" text-anchor="middle" font-weight="bold" fill="#111" font-family='"Liberation Sans", sans-serif' >1500</text>
<line x1="498.61" y1="775" x2="498.61" y2="772" stroke="#1a1a1a" stroke-width="1"/>
<text transform="translate(498.61 784.8) scale(1 1.12)" font-size="7.7" text-anchor="middle" font-weight="bold" fill="#111" font-family='"Liberation Sans", sans-serif' >2000</text>
<line x1="539.28" y1="775" x2="539.28" y2="772" stroke="#1a1a1a" stroke-width="1"/>
<text transform="translate(539.28 784.8) scale(1 1.12)" font-size="7.7" text-anchor="middle" font-weight="bold" fill="#111" font-family='"Liberation Sans", sans-serif' >2500</text>
<line x1="579.95" y1="775" x2="579.95" y2="772" stroke="#1a1a1a" stroke-width="1"/>
<text transform="translate(579.95 784.8) scale(1 1.12)" font-size="7.7" text-anchor="middle" font-weight="bold" fill="#111" font-family='"Liberation Sans", sans-serif' >3000</text>
<line x1="620.62" y1="775" x2="620.62" y2="772" stroke="#1a1a1a" stroke-width="1"/>
<text transform="translate(620.62 784.8) scale(1 1.12)" font-size="7.7" text-anchor="middle" font-weight="bold" fill="#111" font-family='"Liberation Sans", sans-serif' >3500</text>
<text transform="translate(661.29 784.8) scale(1 1.12)" font-size="7.7" text-anchor="middle" font-weight="bold" fill="#111" font-family='"Liberation Sans", sans-serif' >4000</text>
<text x="517" y="798.3" font-size="9.4" text-anchor="middle" font-weight="bold" fill="#111" font-family='"Liberation Sans", sans-serif'>Wavenumber (cm<tspan font-size="6.8" dy="-3.8">-1</tspan><tspan dy="3.8">)</tspan></text>
<text transform="translate(370.3 659.7) rotate(-90)" font-size="10.5" text-anchor="middle" font-weight="bold" fill="#111" font-family='"Liberation Sans", sans-serif'>Absorbance</text>
<line x1="399.3" y1="553.8" x2="429.8" y2="553.8" stroke="#8b2a9e" stroke-width="1.7"/>
<text x="437" y="557.9" font-size="9.3" text-anchor="start" font-weight="bold" fill="#111" font-family='"Liberation Sans", sans-serif' >P</text>
<line x1="399.3" y1="565.4" x2="429.8" y2="565.4" stroke="#f2304e" stroke-width="1.7"/>
<text x="437" y="569" font-size="9.3" text-anchor="start" font-weight="bold" fill="#111" font-family='"Liberation Sans", sans-serif' >PD</text>
<line x1="399.3" y1="578.2" x2="429.8" y2="578.2" stroke="#f5821f" stroke-width="1.7"/>
<text x="437" y="580" font-size="9.3" text-anchor="start" font-weight="bold" fill="#111" font-family='"Liberation Sans", sans-serif' >PDH</text>
<text x="472.5" y="592" font-size="9" text-anchor="middle" font-weight="bold" fill="#111" font-family='"Liberation Sans", sans-serif' >C=O</text>
<text x="610.7" y="563.3" font-size="9" text-anchor="middle" font-weight="bold" fill="#111" font-family='"Liberation Sans", sans-serif' >N-H</text>
<text transform="translate(469 601.3) scale(1 1.12)" font-size="7.8" text-anchor="start" font-weight="bold" fill="#9b30a2" font-family='"Liberation Sans", sans-serif' >1632.93</text>
<text transform="translate(602.7 572.8) scale(1 1.12)" font-size="7.8" text-anchor="start" font-weight="bold" fill="#9b30a2" font-family='"Liberation Sans", sans-serif' >3276.95</text>
<text transform="translate(469 683.3) scale(1 1.12)" font-size="7.8" text-anchor="start" font-weight="bold" fill="#f2304e" font-family='"Liberation Sans", sans-serif' >1632.45</text>
<text transform="translate(602.7 665) scale(1 1.12)" font-size="7.8" text-anchor="start" font-weight="bold" fill="#f2304e" font-family='"Liberation Sans", sans-serif' >3275.98</text>
<text transform="translate(468.7 758.7) scale(1 1.12)" font-size="7.8" text-anchor="start" font-weight="bold" fill="#f5821f" font-family='"Liberation Sans", sans-serif' >1623.76</text>
<text transform="translate(601.7 741.1) scale(1 1.12)" font-size="7.8" text-anchor="start" font-weight="bold" fill="#f5821f" font-family='"Liberation Sans", sans-serif' >3266.30</text>
<text x="0" y="0" font-size="19.5" font-weight="bold" fill="#000" stroke="#000" stroke-width="1.0" stroke-linejoin="round" font-family='"Liberation Sans", sans-serif' transform="translate(330 537.3) scale(1.1 1)">f</text>
</svg></body></html>
